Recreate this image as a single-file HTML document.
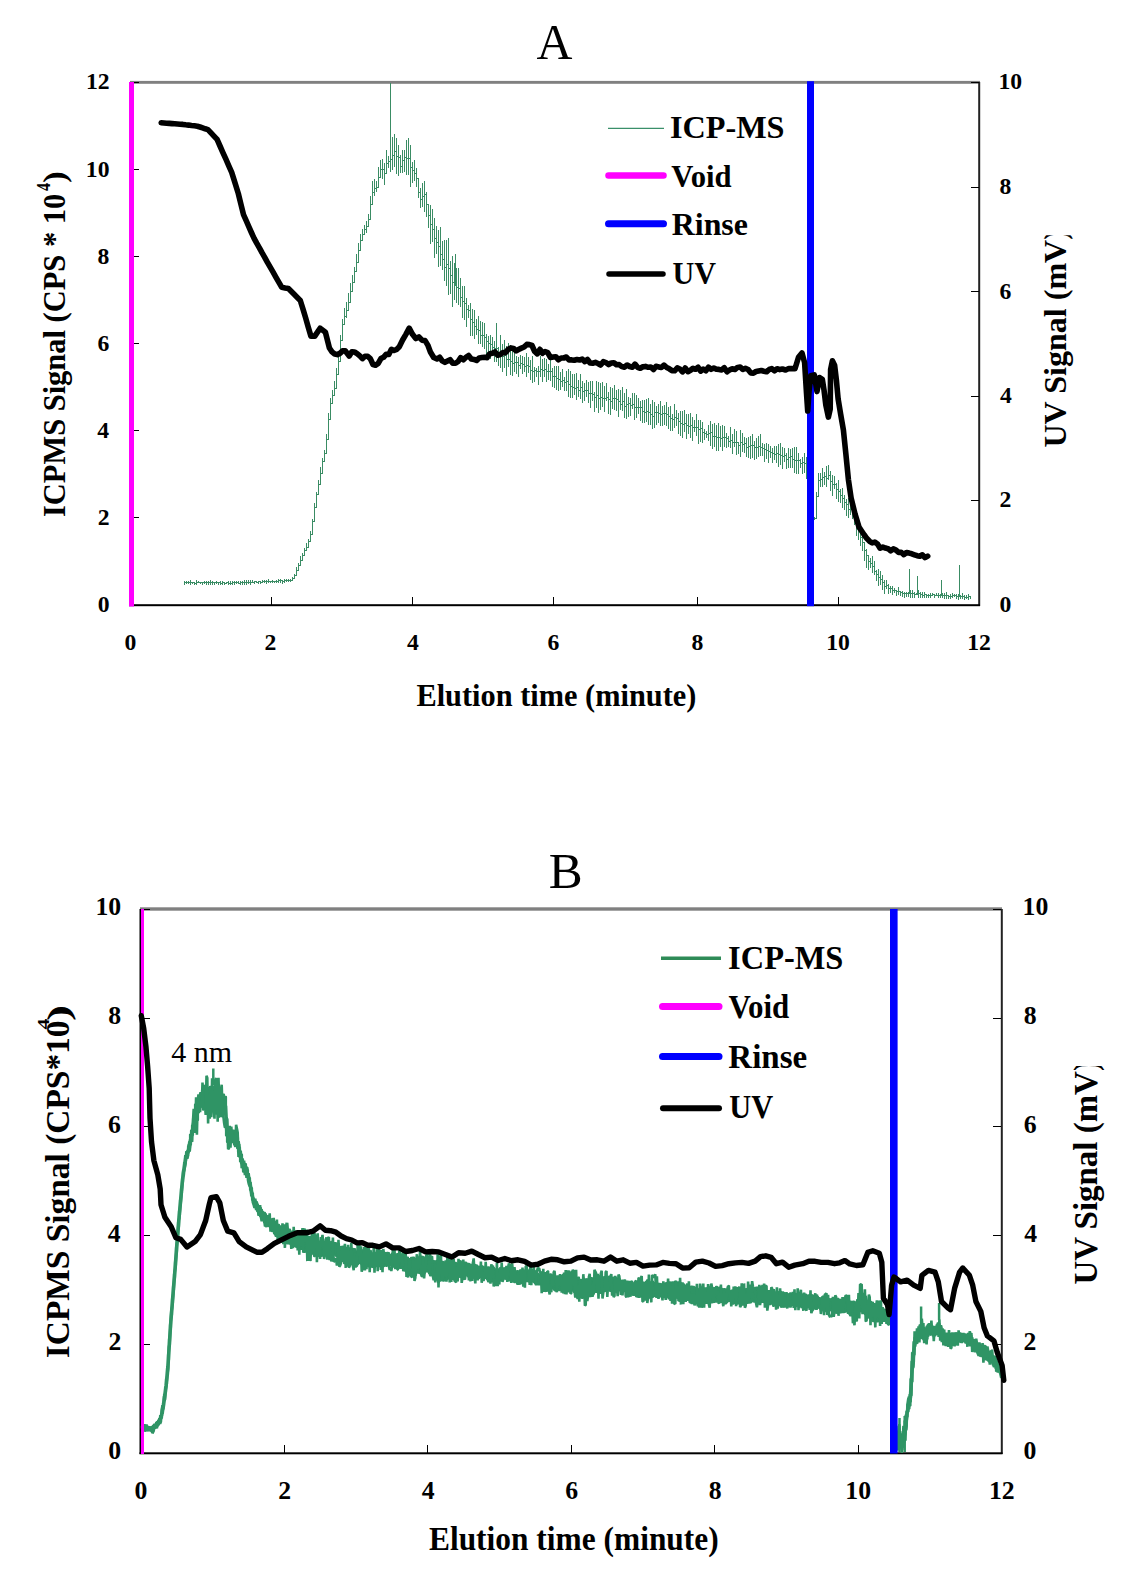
<!DOCTYPE html>
<html><head><meta charset="utf-8"><style>
html,body{margin:0;padding:0;background:#fff;width:1136px;height:1588px;overflow:hidden}
svg{display:block}
text{font-family:"Liberation Serif",serif;fill:#000}
</style></head><body>
<svg width="1136" height="1588" viewBox="0 0 1136 1588">
<rect width="1136" height="1588" fill="#fff"/>
<rect x="130" y="80.9" width="850" height="2.9" fill="#808080"/>
<rect x="978.2" y="82" width="2" height="524" fill="#222"/>
<rect x="129" y="604.2" width="851" height="2" fill="#000"/>
<rect x="129.5" y="82" width="2" height="524" fill="#000"/>
<rect x="271" y="597" width="1" height="8" fill="#000"/>
<rect x="412" y="597" width="1" height="8" fill="#000"/>
<rect x="553" y="597" width="1" height="8" fill="#000"/>
<rect x="697" y="597" width="1" height="8" fill="#000"/>
<rect x="838" y="597" width="1" height="8" fill="#000"/>
<rect x="131" y="605" width="8" height="1" fill="#000"/>
<rect x="131" y="517" width="8" height="1" fill="#000"/>
<rect x="131" y="430" width="8" height="1" fill="#000"/>
<rect x="131" y="343" width="8" height="1" fill="#000"/>
<rect x="131" y="256" width="8" height="1" fill="#000"/>
<rect x="131" y="169" width="8" height="1" fill="#000"/>
<rect x="131" y="82" width="8" height="1" fill="#000"/>
<rect x="971" y="605" width="8" height="1" fill="#000"/>
<rect x="971" y="500" width="8" height="1" fill="#000"/>
<rect x="971" y="396" width="8" height="1" fill="#000"/>
<rect x="971" y="291" width="8" height="1" fill="#000"/>
<rect x="971" y="187" width="8" height="1" fill="#000"/>
<rect x="971" y="82" width="8" height="1" fill="#000"/>
<rect x="140" y="907.3" width="862" height="3.4" fill="#808080"/>
<rect x="1000.8" y="909" width="2" height="545" fill="#222"/>
<rect x="139.5" y="1452.3" width="863" height="2" fill="#000"/>
<rect x="139.5" y="909" width="2" height="545" fill="#000"/>
<rect x="284" y="1445" width="1" height="8" fill="#000"/>
<rect x="427" y="1445" width="1" height="8" fill="#000"/>
<rect x="571" y="1445" width="1" height="8" fill="#000"/>
<rect x="714" y="1445" width="1" height="8" fill="#000"/>
<rect x="858" y="1445" width="1" height="8" fill="#000"/>
<rect x="142" y="1453" width="8" height="1" fill="#000"/>
<rect x="993" y="1453" width="8" height="1" fill="#000"/>
<rect x="142" y="1344" width="8" height="1" fill="#000"/>
<rect x="993" y="1344" width="8" height="1" fill="#000"/>
<rect x="142" y="1235" width="8" height="1" fill="#000"/>
<rect x="993" y="1235" width="8" height="1" fill="#000"/>
<rect x="142" y="1126" width="8" height="1" fill="#000"/>
<rect x="993" y="1126" width="8" height="1" fill="#000"/>
<rect x="142" y="1018" width="8" height="1" fill="#000"/>
<rect x="993" y="1018" width="8" height="1" fill="#000"/>
<rect x="142" y="909" width="8" height="1" fill="#000"/>
<rect x="993" y="909" width="8" height="1" fill="#000"/>
<path d="M184.5,582.7H186.5V582.9H188.5V582.9H190.5V582.5H192.5V582.5H194.5V583.0H196.5V582.3H198.5V582.3H200.5V582.8H202.5V582.6H204.5V582.5H206.5V582.6H208.5V582.8H210.5V582.5H212.5V582.4H214.5V582.9H216.5V582.9H218.5V582.8H220.5V583.1H222.5V582.9H224.5V583.2H226.5V582.7H228.5V583.0H230.5V583.0H232.5V582.8H234.5V582.9H236.5V582.6H238.5V583.0H240.5V582.9H242.5V582.3H244.5V582.5H246.5V582.3H248.5V582.1H250.5V582.6H252.5V582.2H254.5V581.9H256.5V582.3H258.5V581.9H260.5V582.3H262.5V581.7H264.5V581.5H266.5V581.5H268.5V581.5H270.5V581.5H272.5V581.7H274.5V581.5H276.5V581.1H278.5V580.8H280.5V580.8H282.5V581.3H284.5V580.8H286.5V580.9H288.5V580.3H290.5V580.2H292.5V578.9H294.5V575.1H296.5V570.1H298.5V565.3H300.5V560.2H302.5V555.6H304.5V550.6H306.5V547.0H308.5V541.8H310.5V534.7H312.5V521.8H314.5V507.0H316.5V494.4H318.5V484.1H320.5V473.3H322.5V461.8H324.5V453.5H326.5V439.5H328.5V419.7H330.5V403.3H332.5V395.5H334.5V388.1H336.5V374.8H338.5V361.2H340.5V340.2H342.5V324.3H344.5V316.2H346.5V310.3H348.5V302.2H350.5V291.6H352.5V282.1H354.5V271.9H356.5V262.6H358.5V250.0H360.5V240.1H362.5V234.8H364.5V229.5H366.5V226.8H368.5V219.6H370.5V204.3H372.5V192.1H374.5V188.3H376.5V187.7H378.5V177.2H380.5V169.2H382.5V169.4H384.5V173.1H386.5V163.4H388.5V161.0H390.5V159.0H392.5V155.8H394.5V151.8H396.5V156.1H398.5V157.3H400.5V166.2H402.5V160.8H404.5V157.6H406.5V158.6H408.5V158.0H410.5V167.8H412.5V170.9H414.5V173.0H416.5V178.9H418.5V192.6H420.5V199.7H422.5V196.8H424.5V194.3H426.5V204.2H428.5V215.4H430.5V224.4H432.5V229.5H434.5V238.4H436.5V242.4H438.5V246.9H440.5V254.3H442.5V259.0H444.5V267.5H446.5V264.5H448.5V268.2H450.5V275.9H452.5V282.6H454.5V285.5H456.5V287.6H458.5V288.0H460.5V297.9H462.5V301.8H464.5V303.0H466.5V309.1H468.5V310.8H470.5V319.0H472.5V322.3H474.5V326.0H476.5V329.0H478.5V330.0H480.5V335.3H482.5V335.5H484.5V337.5H486.5V341.1H488.5V343.7H490.5V344.2H492.5V347.2H494.5V348.7H496.5V348.6H498.5V352.3H500.5V352.6H502.5V356.4H504.5V355.6H506.5V359.9H508.5V359.3H510.5V361.6H512.5V363.2H514.5V362.9H516.5V362.2H518.5V365.7H520.5V363.0H522.5V364.7H524.5V366.6H526.5V365.2H528.5V366.6H530.5V370.5H532.5V371.4H534.5V370.6H536.5V371.8H538.5V371.1H540.5V369.2H542.5V370.6H544.5V369.4H546.5V371.5H548.5V371.5H550.5V371.9H552.5V376.2H554.5V376.8H556.5V378.4H558.5V379.0H560.5V381.1H562.5V380.7H564.5V382.3H566.5V381.0H568.5V384.3H570.5V386.6H572.5V387.1H574.5V388.3H576.5V387.6H578.5V390.1H580.5V387.5H582.5V391.5H584.5V390.2H586.5V390.0H588.5V393.2H590.5V393.6H592.5V394.5H594.5V397.6H596.5V395.1H598.5V398.6H600.5V397.9H602.5V398.7H604.5V398.9H606.5V397.5H608.5V399.6H610.5V401.4H612.5V398.8H614.5V398.7H616.5V399.5H618.5V401.9H620.5V404.8H622.5V401.1H624.5V406.2H626.5V404.6H628.5V403.3H630.5V405.3H632.5V404.9H634.5V407.8H636.5V407.7H638.5V407.2H640.5V407.9H642.5V411.7H644.5V412.1H646.5V411.5H648.5V412.2H650.5V414.8H652.5V416.5H654.5V412.2H656.5V412.8H658.5V413.9H660.5V414.7H662.5V413.1H664.5V413.3H666.5V414.8H668.5V416.4H670.5V418.7H672.5V419.1H674.5V417.5H676.5V418.5H678.5V421.1H680.5V423.6H682.5V424.5H684.5V423.0H686.5V425.8H688.5V426.7H690.5V425.5H692.5V427.6H694.5V427.0H696.5V427.0H698.5V429.6H700.5V428.6H702.5V432.0H704.5V433.4H706.5V434.5H708.5V433.2H710.5V432.5H712.5V436.3H714.5V436.8H716.5V437.9H718.5V437.0H720.5V438.1H722.5V437.6H724.5V437.5H726.5V438.7H728.5V441.3H730.5V440.4H732.5V442.6H734.5V442.3H736.5V442.7H738.5V445.7H740.5V442.6H742.5V444.7H744.5V443.7H746.5V447.7H748.5V446.1H750.5V445.9H752.5V445.7H754.5V447.9H756.5V447.6H758.5V446.9H760.5V447.0H762.5V448.7H764.5V449.8H766.5V450.0H768.5V451.8H770.5V452.5H772.5V453.6H774.5V454.1H776.5V453.8H778.5V454.9H780.5V455.4H782.5V456.4H784.5V455.4H786.5V459.1H788.5V457.2H790.5V456.7H792.5V459.0H794.5V460.6H796.5V460.0H798.5V460.9H800.5V463.5H802.5V462.6H804.5V463.2H806.5V466.8M184.5,580.8V584.8M186.5,580.7V584.0M188.5,581.2V584.4M190.5,580.3V584.6M192.5,581.8V584.4M194.5,582.2V584.9M196.5,580.3V584.6M198.5,580.9V583.4M200.5,581.9V584.2M202.5,581.5V584.6M204.5,580.8V584.4M206.5,581.0V585.0M208.5,580.8V585.1M210.5,580.2V584.5M212.5,580.8V584.6M214.5,581.6V585.0M216.5,580.9V584.1M218.5,582.3V584.8M220.5,581.4V584.6M222.5,581.3V584.5M224.5,581.6V584.5M226.5,581.8V583.3M228.5,581.1V585.3M230.5,581.0V585.1M232.5,580.7V585.0M234.5,580.6V584.5M236.5,581.0V584.3M238.5,580.9V584.2M240.5,581.2V584.9M242.5,581.0V584.6M244.5,580.2V584.7M246.5,580.2V584.6M248.5,579.8V583.6M250.5,580.4V584.7M252.5,579.9V583.4M254.5,580.8V583.8M256.5,581.6V583.4M258.5,580.5V583.8M260.5,580.6V584.2M262.5,579.6V583.3M264.5,579.7V583.1M266.5,579.6V583.6M268.5,579.3V583.3M270.5,580.5V583.2M272.5,579.6V582.8M274.5,580.6V583.0M276.5,579.7V583.4M278.5,578.7V583.2M280.5,578.7V582.5M282.5,579.6V583.6M284.5,579.3V583.1M286.5,578.6V582.3M288.5,578.8V581.8M290.5,579.4V582.3M292.5,577.3V580.7M294.5,574.1V578.2M296.5,566.7V572.6M298.5,563.4V568.9M300.5,555.8V564.2M302.5,552.8V558.3M304.5,547.5V555.2M306.5,543.1V550.2M308.5,538.6V544.0M310.5,531.2V536.5M312.5,519.2V525.9M314.5,502.6V512.2M316.5,492.4V498.4M318.5,480.3V490.1M320.5,467.2V477.3M322.5,457.7V467.8M324.5,449.5V455.6M326.5,433.8V443.6M328.5,412.6V423.6M330.5,398.2V409.2M332.5,389.9V400.9M334.5,381.0V393.8M336.5,367.5V382.4M338.5,354.5V367.7M340.5,335.4V347.5M342.5,319.1V331.1M344.5,307.5V325.0M346.5,301.9V317.7M348.5,293.0V310.8M350.5,282.9V300.9M352.5,275.1V290.1M354.5,267.2V279.0M356.5,253.9V268.2M358.5,242.5V258.2M360.5,233.7V247.2M362.5,228.9V241.2M364.5,224.6V233.5M366.5,221.4V232.7M368.5,214.1V226.0M370.5,195.9V211.0M372.5,180.9V204.0M374.5,178.8V196.0M376.5,181.2V191.6M378.5,167.4V186.8M380.5,159.6V175.1M382.5,158.5V179.1M384.5,163.4V185.3M386.5,150.2V168.0M388.5,156.0V168.3M390.5,148.1V172.3M392.5,136.5V169.7M394.5,134.0V167.0M396.5,138.0V173.7M398.5,145.2V176.4M400.5,155.4V172.5M402.5,149.7V173.4M404.5,149.7V171.5M406.5,139.9V174.7M408.5,137.7V174.9M410.5,145.0V186.7M412.5,161.6V182.9M414.5,160.4V180.6M416.5,168.3V186.6M418.5,180.9V197.5M420.5,187.5V207.6M422.5,183.0V207.4M424.5,180.7V211.6M426.5,192.1V217.0M428.5,204.7V228.1M430.5,204.5V243.7M432.5,209.1V241.6M434.5,217.8V257.6M436.5,225.7V253.9M438.5,230.4V266.6M440.5,227.4V265.8M442.5,240.5V270.3M444.5,240.0V280.8M446.5,240.0V285.6M448.5,238.4V295.2M450.5,260.9V293.8M452.5,256.4V306.5M454.5,262.6V300.4M456.5,268.4V302.7M458.5,267.8V305.4M460.5,278.2V307.1M462.5,285.9V317.7M464.5,285.7V319.8M466.5,297.5V327.4M468.5,305.1V318.0M470.5,303.4V335.7M472.5,309.2V336.3M474.5,310.1V339.4M476.5,319.3V334.8M478.5,316.2V344.2M480.5,320.9V344.3M482.5,321.6V346.9M484.5,323.3V348.9M486.5,333.6V355.0M488.5,336.0V355.7M490.5,335.4V359.2M492.5,336.6V356.3M494.5,341.3V362.3M496.5,340.2V361.9M498.5,347.3V365.7M500.5,335.1V367.7M502.5,343.5V371.5M504.5,339.6V368.3M506.5,346.1V375.7M508.5,343.1V367.1M510.5,345.2V375.1M512.5,351.3V375.8M514.5,350.4V371.9M516.5,355.7V374.0M518.5,357.3V377.1M520.5,355.3V369.3M522.5,355.9V373.5M524.5,357.3V372.1M526.5,353.4V377.2M528.5,356.6V373.0M530.5,360.2V379.6M532.5,356.4V383.2M534.5,366.5V382.2M536.5,368.4V376.8M538.5,365.5V385.4M540.5,355.8V377.4M542.5,359.2V381.9M544.5,357.8V377.0M546.5,358.8V382.1M548.5,363.9V380.4M550.5,358.9V380.7M552.5,368.0V386.5M554.5,365.9V388.1M556.5,366.2V390.0M558.5,365.8V391.4M560.5,372.3V390.1M562.5,369.4V387.2M564.5,376.8V391.4M566.5,371.3V391.2M568.5,368.9V397.3M570.5,371.4V398.1M572.5,374.2V397.5M574.5,374.2V395.2M576.5,373.3V400.0M578.5,380.4V396.8M580.5,373.7V398.5M582.5,381.4V403.2M584.5,383.4V401.1M586.5,379.6V396.9M588.5,381.7V402.7M590.5,380.8V407.9M592.5,381.2V401.3M594.5,391.9V411.5M596.5,380.9V407.5M598.5,381.6V413.3M600.5,383.1V410.0M602.5,382.3V406.8M604.5,386.3V411.9M606.5,383.0V401.2M608.5,392.0V413.9M610.5,387.3V414.9M612.5,388.2V408.9M614.5,384.7V410.4M616.5,389.6V411.3M618.5,389.1V417.0M620.5,390.3V410.4M622.5,387.3V411.2M624.5,392.9V417.6M626.5,389.0V419.1M628.5,396.5V417.1M630.5,398.3V416.4M632.5,392.9V408.9M634.5,393.2V420.4M636.5,395.0V418.1M638.5,397.8V414.1M640.5,401.0V420.5M642.5,400.2V423.1M644.5,400.0V422.5M646.5,399.1V421.6M648.5,398.1V425.4M650.5,404.0V425.3M652.5,400.1V428.7M654.5,401.7V428.3M656.5,405.5V424.7M658.5,403.7V423.0M660.5,400.8V425.9M662.5,406.0V426.2M664.5,405.3V425.4M666.5,402.1V426.1M668.5,407.3V429.1M670.5,406.0V430.8M672.5,414.1V431.0M674.5,404.1V427.8M676.5,410.0V425.8M678.5,413.3V433.8M680.5,411.0V435.5M682.5,410.7V438.2M684.5,409.6V432.0M686.5,413.9V438.5M688.5,414.1V434.3M690.5,412.7V438.0M692.5,417.1V440.7M694.5,420.2V431.9M696.5,413.9V436.2M698.5,419.5V444.0M700.5,419.5V442.3M702.5,421.8V443.4M704.5,429.1V439.8M706.5,430.7V437.6M708.5,425.0V441.3M710.5,421.3V445.8M712.5,423.9V449.1M714.5,423.0V447.1M716.5,424.6V450.8M718.5,422.9V450.9M720.5,426.0V447.4M722.5,424.8V451.3M724.5,425.7V446.5M726.5,432.6V448.3M728.5,435.7V446.5M730.5,427.3V447.9M732.5,434.3V454.3M734.5,428.7V446.9M736.5,431.3V454.8M738.5,442.0V453.9M740.5,430.0V456.6M742.5,432.9V452.4M744.5,437.2V452.6M746.5,438.4V457.2M748.5,436.6V458.2M750.5,436.3V459.1M752.5,433.6V458.1M754.5,440.9V459.8M756.5,438.1V458.7M758.5,436.3V457.1M760.5,434.4V455.6M762.5,442.7V455.7M764.5,444.4V461.9M766.5,442.9V459.2M768.5,444.4V462.7M770.5,445.7V457.7M772.5,448.1V462.6M774.5,446.4V460.1M776.5,445.8V463.1M778.5,444.4V467.3M780.5,443.4V464.9M782.5,446.5V468.8M784.5,447.7V462.3M786.5,452.7V469.2M788.5,448.3V467.5M790.5,449.0V467.9M792.5,448.1V467.5M794.5,446.9V473.2M796.5,447.3V473.7M798.5,452.8V474.2M800.5,458.6V468.2M802.5,456.8V473.6M804.5,452.6V472.9M806.5,456.9V478.5M814.5,518.8H816.5V496.2H818.5V480.6H820.5V479.0H822.5V477.9H824.5V476.8H826.5V478.0H828.5V475.8H830.5V481.8H832.5V484.7H834.5V484.7H836.5V489.6H838.5V491.3H840.5V495.0H842.5V498.9H844.5V502.2H846.5V504.8H848.5V509.1H850.5V509.1H852.5V511.8H854.5V518.0H856.5V523.6H858.5V529.8H860.5V537.3H862.5V542.1H864.5V550.9H866.5V555.6H868.5V561.5H870.5V563.3H872.5V566.2H874.5V571.7H876.5V574.6H878.5V577.9H880.5V579.2H882.5V582.1H884.5V586.1H886.5V585.7H888.5V588.8H890.5V588.7H892.5V590.4H894.5V590.7H896.5V591.1H898.5V591.5H900.5V592.9H902.5V593.6H904.5V593.5H906.5V593.5H908.5V593.8H910.5V593.7H912.5V593.9H914.5V594.4H916.5V593.8H918.5V593.9H920.5V594.9H922.5V595.0H924.5V594.7H926.5V595.1H928.5V595.2H930.5V595.5H932.5V594.7H934.5V595.6H936.5V595.3H938.5V595.3H940.5V595.6H942.5V595.6H944.5V595.5H946.5V595.5H948.5V596.2H950.5V596.1H952.5V595.5H954.5V595.9H956.5V596.4H958.5V596.6H960.5V596.9H962.5V596.3H964.5V597.1H966.5V597.1H968.5V596.6H970.5V596.8M814.5,517.0V520.2M816.5,491.5V503.0M818.5,473.2V482.4M820.5,472.6V487.3M822.5,468.4V486.8M824.5,471.8V484.6M826.5,466.3V486.8M828.5,464.7V480.3M830.5,470.6V490.6M832.5,474.8V495.9M834.5,476.1V488.7M836.5,483.3V499.3M838.5,479.5V501.9M840.5,488.5V502.5M842.5,488.1V507.7M844.5,495.3V509.9M846.5,498.6V515.7M848.5,498.0V517.8M850.5,497.8V514.9M852.5,503.4V519.0M854.5,507.1V525.2M856.5,511.8V536.1M858.5,519.9V540.2M860.5,526.5V546.3M862.5,535.0V550.8M864.5,544.9V560.5M866.5,548.8V567.9M868.5,558.4V570.4M870.5,558.3V568.0M872.5,555.5V572.6M874.5,560.7V574.5M876.5,570.4V580.7M878.5,569.0V586.3M880.5,570.7V584.9M882.5,574.7V590.1M884.5,580.1V593.6M886.5,580.4V589.0M888.5,583.5V594.4M890.5,585.5V593.2M892.5,586.1V595.2M894.5,588.0V593.3M896.5,589.5V595.5M898.5,586.8V594.7M900.5,590.8V595.6M902.5,590.9V596.5M904.5,591.7V598.0M906.5,592.3V596.9M908.5,591.6V597.0M910.5,589.5V597.8M912.5,590.2V597.8M914.5,591.5V598.3M916.5,592.9V595.0M918.5,590.4V597.7M920.5,592.1V598.1M922.5,591.6V598.4M924.5,592.0V597.8M926.5,593.7V598.3M928.5,593.9V598.3M930.5,592.6V598.2M932.5,592.9V596.3M934.5,594.0V598.4M936.5,593.0V596.4M938.5,593.4V597.5M940.5,593.6V597.6M942.5,592.7V597.7M944.5,593.1V598.5M946.5,592.3V598.5M948.5,594.7V599.2M950.5,594.1V598.8M952.5,592.5V598.4M954.5,593.5V597.4M956.5,593.5V598.5M958.5,594.3V599.5M960.5,594.6V599.2M962.5,593.3V598.8M964.5,595.0V600.0M966.5,594.5V598.9M968.5,594.1V599.6M970.5,595.9V599.1M390.5,82.5V160M455.5,254V285M496.5,323V349M909.5,569V594M917.5,576V595M959.5,565V596M941.5,580V596" fill="none" stroke="#3a8c64" stroke-width="1" shape-rendering="crispEdges"/>
<rect x="129" y="82" width="5" height="524.5" fill="#ff00ff"/>
<rect x="807" y="81.2" width="7" height="525" fill="#0000ff"/>
<polyline points="161.2,122.8 163.9,123.0 166.6,123.2 169.3,123.4 172.0,123.6 174.7,123.8 177.4,124.0 180.1,124.2 182.8,124.4 185.7,124.8 188.6,125.1 191.5,125.5 194.4,125.8 197.3,126.2 200.0,127.0 202.6,127.9 205.2,128.8 207.9,129.6 211.0,132.9 214.0,136.1 217.1,139.4 220.0,146.0 222.9,152.6 225.9,159.2 228.8,165.8 231.7,172.4 235.0,182.9 238.3,193.5 240.9,204.1 243.5,214.7 246.2,220.6 248.8,226.6 251.4,232.5 254.1,238.4 256.7,243.2 259.4,247.9 262.0,252.7 264.7,257.4 267.3,262.2 270.2,267.2 273.1,272.2 276.0,277.3 278.9,282.3 281.8,287.3 285.1,288.0 288.4,288.6 291.4,291.6 294.4,294.6 297.3,297.5 300.3,300.5 303.0,309.1 305.6,317.7 308.2,326.9 310.9,336.1 314.8,336.1 317.5,332.1 320.1,328.2 322.8,330.2 325.4,332.2 329.4,348.0 332.0,351.8 334.7,354.0 337.3,354.6 339.9,353.4 342.6,350.9 345.2,350.7 349.2,356.0 351.9,351.7 354.5,352.0 357.1,353.6 359.8,355.9 362.4,358.6 365.0,356.2 367.7,356.3 370.3,358.6 373.0,364.5 375.6,365.2 378.2,363.4 380.9,358.6 383.5,357.3 386.1,354.3 388.8,354.4 391.4,349.3 394.0,350.5 396.7,349.4 399.3,346.7 402.6,340.0 405.9,334.3 409.2,328.2 412.5,334.3 415.8,338.5 418.9,336.9 422.0,340.2 425.1,340.6 427.8,345.1 430.4,352.0 433.7,357.5 437.0,359.0 439.6,357.2 442.2,360.9 444.9,362.4 447.5,361.0 450.1,359.7 452.8,363.3 455.5,363.3 458.1,361.5 460.7,357.6 463.4,359.8 466.0,357.3 468.6,355.5 471.3,358.9 474.0,359.4 476.6,360.5 479.2,357.9 481.9,357.5 484.5,357.3 487.1,357.6 489.8,353.7 492.4,353.3 495.0,351.9 497.7,355.2 500.3,354.6 503.0,352.6 505.6,352.6 508.3,349.3 510.9,347.9 513.5,348.4 516.2,350.9 518.8,349.3 521.4,348.2 524.1,347.0 526.8,344.4 529.4,344.6 532.0,345.5 534.7,351.5 537.3,353.8 539.9,349.3 542.4,353.3 545.0,351.5 547.7,352.6 550.5,357.5 553.2,357.0 555.8,356.7 558.5,359.8 561.1,358.0 563.7,358.0 566.4,357.0 569.0,359.9 571.7,359.9 574.3,360.3 577.0,359.5 579.6,360.0 582.2,359.1 584.9,361.7 587.5,359.5 590.1,363.0 592.7,363.2 595.4,362.4 598.0,363.5 600.6,365.0 603.3,361.7 605.9,362.6 608.6,364.6 611.2,363.0 613.9,362.7 616.5,364.8 619.2,364.6 621.8,366.6 624.5,367.2 627.1,365.0 629.7,366.5 632.4,367.2 635.0,364.1 637.6,367.3 640.3,368.3 642.9,366.8 645.5,366.4 648.2,367.3 650.8,367.0 653.5,369.6 656.1,366.3 658.8,366.9 661.4,367.5 664.0,365.1 666.7,367.5 669.3,368.8 672.0,370.6 674.6,370.8 677.3,367.9 679.9,369.0 682.5,371.9 685.2,368.0 687.9,371.7 690.5,370.3 693.0,368.3 695.6,369.3 698.1,367.3 700.7,371.1 703.2,369.0 705.8,370.8 708.5,367.2 711.1,369.3 713.8,368.0 716.4,369.3 719.0,369.4 721.7,369.9 724.3,367.7 727.0,371.8 729.6,370.0 732.2,368.7 734.9,369.5 737.5,367.4 740.2,367.0 742.8,369.5 745.4,368.3 748.1,369.5 750.7,372.9 753.4,373.1 756.0,371.5 758.6,371.0 761.3,370.5 763.9,371.2 766.6,371.8 769.2,369.5 771.8,368.6 774.5,370.8 777.1,368.7 779.8,369.6 782.4,369.0 785.6,370.0 788.8,368.5 791.9,368.6 795.0,368.7 798.5,357.3 802.0,352.9 804.6,362.6 806.4,391.6 807.7,411.0 809.0,391.6 810.8,375.8 814.3,374.9 817.0,391.6 819.6,377.5 822.3,379.3 824.0,389.9 825.8,404.8 828.4,417.1 830.2,409.2 830.6,369.6 832.4,360.8 834.6,365.2 836.3,379.3 838.1,398.7 840.7,414.5 843.4,430.0 845.8,453.2 848.4,479.6 851.1,498.0 855.0,513.9 859.0,527.1 861.6,531.0 864.3,535.0 866.9,538.6 869.6,541.3 872.2,542.9 874.8,542.1 877.5,544.0 880.1,548.2 882.8,547.0 885.4,548.1 888.1,548.7 890.7,550.9 893.3,548.9 896.0,550.1 898.6,552.4 901.2,552.2 903.9,554.7 906.5,552.5 909.2,553.1 911.8,553.8 914.5,554.8 917.1,555.7 919.8,556.3 922.4,554.8 925.0,557.7 927.7,556.1" fill="none" stroke="#000" stroke-width="5.6" stroke-linejoin="round" stroke-linecap="round" />
<polyline points="142.5,1427.0 144.1,1427.0 147.6,1428.5 152.0,1429.0 155.5,1426.0 159.0,1422.0 161.7,1415.0 163.5,1405.0 166.1,1386.0 167.9,1367.0 170.5,1326.0 173.1,1293.0 174.9,1271.0 176.7,1247.0 179.1,1217.0 182.2,1183.0 183.7,1171.0 185.8,1157.0 188.0,1152.0 190.1,1142.0 192.2,1132.0 194.8,1116.0 196.9,1112.0 199.6,1102.0 202.7,1096.0 205.9,1096.0 208.6,1100.0 211.2,1097.0 213.3,1097.0 216.5,1103.0 219.6,1102.0 222.8,1106.0 225.5,1106.0 227.0,1135.0 230.2,1136.0 234.4,1138.0 236.5,1138.0 239.7,1154.0 243.9,1167.0 248.2,1175.0 253.2,1200.0 262.0,1215.0 270.8,1224.0 276.1,1229.0 283.2,1236.0 293.7,1238.0 306.0,1244.0 318.4,1249.0 329.0,1248.0 333.2,1249.0 346.4,1257.0 359.6,1257.0 372.8,1260.0 386.0,1259.0 399.2,1261.0 412.4,1267.0 425.6,1264.0 438.8,1272.0 452.0,1270.0 465.2,1270.0 478.4,1271.5 491.6,1275.5 504.8,1273.0 518.0,1277.0 531.2,1275.5 544.5,1281.0 557.7,1283.5 570.9,1282.0 584.1,1290.0 597.3,1285.0 610.5,1283.5 623.2,1286.0 636.4,1290.0 649.6,1289.0 662.8,1290.0 676.0,1290.0 689.2,1292.5 702.4,1296.5 715.6,1294.0 728.8,1296.5 742.0,1296.5 755.2,1294.0 768.4,1298.0 781.6,1299.5 794.8,1299.5 808.0,1301.0 821.2,1303.5 834.5,1306.0 847.7,1306.0 856.4,1312.0 860.5,1300.0 864.6,1305.0 872.8,1312.0 881.0,1314.5 889.1,1317.0 891.0,1318.0" fill="none" stroke="#2f9465" stroke-width="3.6" stroke-linejoin="round" stroke-linecap="round" />
<polygon points="142.0,1425.4 143.0,1425.4 143.0,1425.5 144.0,1425.5 144.0,1425.1 145.0,1425.1 145.0,1425.8 146.0,1425.8 146.0,1426.3 147.0,1426.3 147.0,1426.7 148.0,1426.7 148.0,1427.1 149.0,1427.1 149.0,1427.2 150.0,1427.2 150.0,1427.4 151.0,1427.4 151.0,1427.7 152.0,1427.7 152.0,1426.5 153.0,1426.5 153.0,1425.7 154.0,1425.7 154.0,1424.6 155.0,1424.6 155.0,1424.3 156.0,1424.3 156.0,1422.7 157.0,1422.7 157.0,1421.8 158.0,1421.8 158.0,1420.5 159.0,1420.5 159.0,1419.1 160.0,1419.1 160.0,1415.8 161.0,1415.8 161.0,1413.8 162.0,1413.8 162.0,1407.9 163.0,1407.9 163.0,1402.8 164.0,1402.8 164.0,1394.6 165.0,1394.6 165.0,1387.4 166.0,1387.4 166.0,1378.8 167.0,1378.8 167.0,1368.0 168.0,1368.0 168.0,1354.6 169.0,1354.6 169.0,1339.3 170.0,1339.3 170.0,1324.6 171.0,1324.6 171.0,1311.7 172.0,1311.7 172.0,1298.7 173.0,1298.7 173.0,1286.5 174.0,1286.5 174.0,1274.1 175.0,1274.1 175.0,1261.7 176.0,1261.7 176.0,1247.6 177.0,1247.6 177.0,1235.5 178.0,1235.5 178.0,1222.2 179.0,1222.2 179.0,1211.0 180.0,1211.0 180.0,1200.1 181.0,1200.1 181.0,1188.8 182.0,1188.8 182.0,1178.3 183.0,1178.3 183.0,1170.3 184.0,1170.3 184.0,1162.8 185.0,1162.8 185.0,1155.9 186.0,1155.9 186.0,1152.7 187.0,1152.7 187.0,1151.2 188.0,1151.2 188.0,1146.4 189.0,1146.4 189.0,1142.1 190.0,1142.1 190.0,1134.6 191.0,1134.6 191.0,1130.7 192.0,1130.7 192.0,1125.5 193.0,1125.5 193.0,1118.4 194.0,1118.4 194.0,1110.7 195.0,1110.7 195.0,1104.5 196.0,1104.5 196.0,1105.6 197.0,1105.6 197.0,1102.9 198.0,1102.9 198.0,1100.0 199.0,1100.0 199.0,1097.5 200.0,1097.5 200.0,1093.2 201.0,1093.2 201.0,1093.0 202.0,1093.0 202.0,1089.8 203.0,1089.8 203.0,1085.5 204.0,1085.5 204.0,1088.4 205.0,1088.4 205.0,1086.7 206.0,1086.7 206.0,1090.1 207.0,1090.1 207.0,1089.0 208.0,1089.0 208.0,1087.8 209.0,1087.8 209.0,1088.7 210.0,1088.7 210.0,1086.8 211.0,1086.8 211.0,1090.4 212.0,1090.4 212.0,1088.9 213.0,1088.9 213.0,1086.8 214.0,1086.8 214.0,1088.2 215.0,1088.2 215.0,1091.2 216.0,1091.2 216.0,1092.2 217.0,1092.2 217.0,1087.5 218.0,1087.5 218.0,1089.7 219.0,1089.7 219.0,1089.3 220.0,1089.3 220.0,1094.5 221.0,1094.5 221.0,1096.5 222.0,1096.5 222.0,1097.8 223.0,1097.8 223.0,1094.5 224.0,1094.5 224.0,1099.3 225.0,1099.3 225.0,1096.8 226.0,1096.8 226.0,1118.2 227.0,1118.2 227.0,1129.0 228.0,1129.0 228.0,1130.1 229.0,1130.1 229.0,1130.6 230.0,1130.6 230.0,1131.7 231.0,1131.7 231.0,1131.8 232.0,1131.8 232.0,1130.6 233.0,1130.6 233.0,1130.6 234.0,1130.6 234.0,1131.4 235.0,1131.4 235.0,1133.7 236.0,1133.7 236.0,1133.1 237.0,1133.1 237.0,1137.5 238.0,1137.5 238.0,1141.8 239.0,1141.8 239.0,1147.6 240.0,1147.6 240.0,1151.3 241.0,1151.3 241.0,1154.7 242.0,1154.7 242.0,1159.0 243.0,1159.0 243.0,1162.2 244.0,1162.2 244.0,1163.6 245.0,1163.6 245.0,1166.1 246.0,1166.1 246.0,1167.4 247.0,1167.4 247.0,1170.2 248.0,1170.2 248.0,1173.8 249.0,1173.8 249.0,1178.2 250.0,1178.2 250.0,1184.3 251.0,1184.3 251.0,1188.1 252.0,1188.1 252.0,1193.3 253.0,1193.3 253.0,1198.3 254.0,1198.3 254.0,1199.9 255.0,1199.9 255.0,1201.4 256.0,1201.4 256.0,1202.2 257.0,1202.2 257.0,1204.7 258.0,1204.7 258.0,1206.5 259.0,1206.5 259.0,1208.3 260.0,1208.3 260.0,1208.1 261.0,1208.1 261.0,1209.9 262.0,1209.9 262.0,1212.9 263.0,1212.9 263.0,1213.3 264.0,1213.3 264.0,1212.8 265.0,1212.8 265.0,1214.2 266.0,1214.2 266.0,1216.0 267.0,1216.0 267.0,1216.1 268.0,1216.1 268.0,1217.0 269.0,1217.0 269.0,1218.1 270.0,1218.1 270.0,1220.2 271.0,1220.2 271.0,1219.9 272.0,1219.9 272.0,1222.1 273.0,1222.1 273.0,1220.9 274.0,1220.9 274.0,1221.8 275.0,1221.8 275.0,1222.7 276.0,1222.7 276.0,1223.6 277.0,1223.6 277.0,1225.6 278.0,1225.6 278.0,1224.8 279.0,1224.8 279.0,1227.2 280.0,1227.2 280.0,1226.3 281.0,1226.3 281.0,1229.2 282.0,1229.2 282.0,1231.0 283.0,1231.0 283.0,1229.4 284.0,1229.4 284.0,1230.6 285.0,1230.6 285.0,1230.5 286.0,1230.5 286.0,1232.2 287.0,1232.2 287.0,1229.8 288.0,1229.8 288.0,1232.6 289.0,1232.6 289.0,1229.6 290.0,1229.6 290.0,1231.5 291.0,1231.5 291.0,1231.5 292.0,1231.5 292.0,1231.7 293.0,1231.7 293.0,1233.6 294.0,1233.6 294.0,1232.0 295.0,1232.0 295.0,1231.4 296.0,1231.4 296.0,1234.0 297.0,1234.0 297.0,1234.7 298.0,1234.7 298.0,1234.4 299.0,1234.4 299.0,1232.7 300.0,1232.7 300.0,1234.6 301.0,1234.6 301.0,1236.1 302.0,1236.1 302.0,1235.9 303.0,1235.9 303.0,1237.0 304.0,1237.0 304.0,1235.5 305.0,1235.5 305.0,1234.8 306.0,1234.8 306.0,1236.7 307.0,1236.7 307.0,1236.3 308.0,1236.3 308.0,1237.7 309.0,1237.7 309.0,1239.8 310.0,1239.8 310.0,1236.9 311.0,1236.9 311.0,1240.0 312.0,1240.0 312.0,1240.1 313.0,1240.1 313.0,1241.6 314.0,1241.6 314.0,1241.0 315.0,1241.0 315.0,1239.3 316.0,1239.3 316.0,1241.8 317.0,1241.8 317.0,1242.4 318.0,1242.4 318.0,1243.2 319.0,1243.2 319.0,1243.0 320.0,1243.0 320.0,1243.1 321.0,1243.1 321.0,1241.3 322.0,1241.3 322.0,1243.4 323.0,1243.4 323.0,1241.9 324.0,1241.9 324.0,1244.2 325.0,1244.2 325.0,1242.5 326.0,1242.5 326.0,1241.3 327.0,1241.3 327.0,1243.6 328.0,1243.6 328.0,1242.5 329.0,1242.5 329.0,1242.8 330.0,1242.8 330.0,1243.8 331.0,1243.8 331.0,1241.9 332.0,1241.9 332.0,1244.5 333.0,1244.5 333.0,1244.0 334.0,1244.0 334.0,1243.0 335.0,1243.0 335.0,1243.2 336.0,1243.2 336.0,1244.0 337.0,1244.0 337.0,1244.3 338.0,1244.3 338.0,1243.9 339.0,1243.9 339.0,1247.0 340.0,1247.0 340.0,1247.8 341.0,1247.8 341.0,1246.8 342.0,1246.8 342.0,1247.2 343.0,1247.2 343.0,1246.7 344.0,1246.7 344.0,1248.9 345.0,1248.9 345.0,1249.7 346.0,1249.7 346.0,1247.9 347.0,1247.9 347.0,1250.1 348.0,1250.1 348.0,1248.0 349.0,1248.0 349.0,1250.9 350.0,1250.9 350.0,1250.6 351.0,1250.6 351.0,1249.0 352.0,1249.0 352.0,1248.8 353.0,1248.8 353.0,1251.4 354.0,1251.4 354.0,1249.0 355.0,1249.0 355.0,1251.1 356.0,1251.1 356.0,1251.8 357.0,1251.8 357.0,1251.7 358.0,1251.7 358.0,1249.4 359.0,1249.4 359.0,1249.8 360.0,1249.8 360.0,1250.7 361.0,1250.7 361.0,1250.1 362.0,1250.1 362.0,1253.4 363.0,1253.4 363.0,1252.8 364.0,1252.8 364.0,1253.4 365.0,1253.4 365.0,1251.7 366.0,1251.7 366.0,1251.5 367.0,1251.5 367.0,1252.7 368.0,1252.7 368.0,1254.6 369.0,1254.6 369.0,1254.1 370.0,1254.1 370.0,1255.0 371.0,1255.0 371.0,1253.5 372.0,1253.5 372.0,1253.5 373.0,1253.5 373.0,1254.6 374.0,1254.6 374.0,1253.6 375.0,1253.6 375.0,1255.5 376.0,1255.5 376.0,1254.1 377.0,1254.1 377.0,1253.7 378.0,1253.7 378.0,1253.2 379.0,1253.2 379.0,1252.4 380.0,1252.4 380.0,1253.1 381.0,1253.1 381.0,1255.0 382.0,1255.0 382.0,1253.5 383.0,1253.5 383.0,1254.8 384.0,1254.8 384.0,1252.9 385.0,1252.9 385.0,1254.6 386.0,1254.6 386.0,1253.2 387.0,1253.2 387.0,1252.8 388.0,1252.8 388.0,1253.0 389.0,1253.0 389.0,1255.5 390.0,1255.5 390.0,1255.3 391.0,1255.3 391.0,1254.7 392.0,1254.7 392.0,1253.6 393.0,1253.6 393.0,1256.2 394.0,1256.2 394.0,1255.7 395.0,1255.7 395.0,1256.6 396.0,1256.6 396.0,1255.0 397.0,1255.0 397.0,1254.1 398.0,1254.1 398.0,1254.6 399.0,1254.6 399.0,1255.2 400.0,1255.2 400.0,1255.7 401.0,1255.7 401.0,1256.8 402.0,1256.8 402.0,1255.7 403.0,1255.7 403.0,1256.1 404.0,1256.1 404.0,1255.8 405.0,1255.8 405.0,1257.1 406.0,1257.1 406.0,1257.8 407.0,1257.8 407.0,1257.5 408.0,1257.5 408.0,1260.1 409.0,1260.1 409.0,1259.0 410.0,1259.0 410.0,1259.2 411.0,1259.2 411.0,1257.9 412.0,1257.9 412.0,1258.1 413.0,1258.1 413.0,1257.6 414.0,1257.6 414.0,1258.7 415.0,1258.7 415.0,1260.4 416.0,1260.4 416.0,1260.6 417.0,1260.6 417.0,1259.7 418.0,1259.7 418.0,1257.5 419.0,1257.5 419.0,1258.6 420.0,1258.6 420.0,1259.0 421.0,1259.0 421.0,1256.6 422.0,1256.6 422.0,1256.9 423.0,1256.9 423.0,1257.3 424.0,1257.3 424.0,1258.2 425.0,1258.2 425.0,1258.8 426.0,1258.8 426.0,1255.9 427.0,1255.9 427.0,1256.5 428.0,1256.5 428.0,1259.5 429.0,1259.5 429.0,1257.2 430.0,1257.2 430.0,1257.7 431.0,1257.7 431.0,1259.4 432.0,1259.4 432.0,1260.9 433.0,1260.9 433.0,1261.1 434.0,1261.1 434.0,1262.6 435.0,1262.6 435.0,1261.5 436.0,1261.5 436.0,1261.0 437.0,1261.0 437.0,1262.3 438.0,1262.3 438.0,1261.5 439.0,1261.5 439.0,1262.6 440.0,1262.6 440.0,1265.4 441.0,1265.4 441.0,1265.1 442.0,1265.1 442.0,1261.9 443.0,1261.9 443.0,1265.2 444.0,1265.2 444.0,1265.3 445.0,1265.3 445.0,1265.8 446.0,1265.8 446.0,1264.4 447.0,1264.4 447.0,1264.6 448.0,1264.6 448.0,1263.6 449.0,1263.6 449.0,1264.7 450.0,1264.7 450.0,1265.3 451.0,1265.3 451.0,1264.8 452.0,1264.8 452.0,1265.7 453.0,1265.7 453.0,1264.1 454.0,1264.1 454.0,1264.0 455.0,1264.0 455.0,1262.8 456.0,1262.8 456.0,1265.1 457.0,1265.1 457.0,1265.4 458.0,1265.4 458.0,1263.9 459.0,1263.9 459.0,1262.3 460.0,1262.3 460.0,1263.8 461.0,1263.8 461.0,1262.6 462.0,1262.6 462.0,1264.0 463.0,1264.0 463.0,1262.6 464.0,1262.6 464.0,1263.2 465.0,1263.2 465.0,1262.7 466.0,1262.7 466.0,1263.7 467.0,1263.7 467.0,1264.0 468.0,1264.0 468.0,1263.8 469.0,1263.8 469.0,1265.1 470.0,1265.1 470.0,1265.1 471.0,1265.1 471.0,1265.2 472.0,1265.2 472.0,1265.2 473.0,1265.2 473.0,1265.3 474.0,1265.3 474.0,1264.9 475.0,1264.9 475.0,1267.1 476.0,1267.1 476.0,1265.7 477.0,1265.7 477.0,1267.1 478.0,1267.1 478.0,1266.7 479.0,1266.7 479.0,1267.8 480.0,1267.8 480.0,1267.6 481.0,1267.6 481.0,1266.2 482.0,1266.2 482.0,1266.5 483.0,1266.5 483.0,1268.8 484.0,1268.8 484.0,1267.7 485.0,1267.7 485.0,1267.3 486.0,1267.3 486.0,1267.7 487.0,1267.7 487.0,1268.6 488.0,1268.6 488.0,1267.3 489.0,1267.3 489.0,1270.4 490.0,1270.4 490.0,1268.4 491.0,1268.4 491.0,1270.1 492.0,1270.1 492.0,1269.3 493.0,1269.3 493.0,1267.9 494.0,1267.9 494.0,1269.5 495.0,1269.5 495.0,1269.4 496.0,1269.4 496.0,1270.1 497.0,1270.1 497.0,1269.4 498.0,1269.4 498.0,1269.3 499.0,1269.3 499.0,1269.5 500.0,1269.5 500.0,1268.1 501.0,1268.1 501.0,1267.9 502.0,1267.9 502.0,1268.5 503.0,1268.5 503.0,1269.2 504.0,1269.2 504.0,1268.3 505.0,1268.3 505.0,1268.7 506.0,1268.7 506.0,1269.5 507.0,1269.5 507.0,1267.9 508.0,1267.9 508.0,1270.3 509.0,1270.3 509.0,1269.6 510.0,1269.6 510.0,1269.6 511.0,1269.6 511.0,1270.1 512.0,1270.1 512.0,1270.4 513.0,1270.4 513.0,1270.1 514.0,1270.1 514.0,1269.5 515.0,1269.5 515.0,1271.7 516.0,1271.7 516.0,1271.7 517.0,1271.7 517.0,1271.2 518.0,1271.2 518.0,1271.5 519.0,1271.5 519.0,1271.6 520.0,1271.6 520.0,1270.3 521.0,1270.3 521.0,1271.5 522.0,1271.5 522.0,1271.9 523.0,1271.9 523.0,1270.4 524.0,1270.4 524.0,1271.8 525.0,1271.8 525.0,1271.0 526.0,1271.0 526.0,1272.3 527.0,1272.3 527.0,1270.7 528.0,1270.7 528.0,1272.2 529.0,1272.2 529.0,1272.1 530.0,1272.1 530.0,1270.6 531.0,1270.6 531.0,1271.8 532.0,1271.8 532.0,1270.1 533.0,1270.1 533.0,1272.8 534.0,1272.8 534.0,1272.1 535.0,1272.1 535.0,1271.7 536.0,1271.7 536.0,1272.1 537.0,1272.1 537.0,1274.3 538.0,1274.3 538.0,1274.0 539.0,1274.0 539.0,1274.4 540.0,1274.4 540.0,1274.8 541.0,1274.8 541.0,1272.9 542.0,1272.9 542.0,1272.7 543.0,1272.7 543.0,1274.7 544.0,1274.7 544.0,1273.8 545.0,1273.8 545.0,1276.2 546.0,1276.2 546.0,1275.7 547.0,1275.7 547.0,1275.6 548.0,1275.6 548.0,1277.3 549.0,1277.3 549.0,1275.0 550.0,1275.0 550.0,1274.4 551.0,1274.4 551.0,1275.2 552.0,1275.2 552.0,1275.8 553.0,1275.8 553.0,1275.9 554.0,1275.9 554.0,1278.0 555.0,1278.0 555.0,1276.9 556.0,1276.9 556.0,1277.0 557.0,1277.0 557.0,1277.7 558.0,1277.7 558.0,1277.1 559.0,1277.1 559.0,1277.0 560.0,1277.0 560.0,1275.8 561.0,1275.8 561.0,1276.1 562.0,1276.1 562.0,1276.5 563.0,1276.5 563.0,1274.8 564.0,1274.8 564.0,1277.9 565.0,1277.9 565.0,1276.1 566.0,1276.1 566.0,1276.0 567.0,1276.0 567.0,1277.4 568.0,1277.4 568.0,1276.2 569.0,1276.2 569.0,1275.5 570.0,1275.5 570.0,1275.0 571.0,1275.0 571.0,1274.8 572.0,1274.8 572.0,1277.4 573.0,1277.4 573.0,1278.0 574.0,1278.0 574.0,1275.3 575.0,1275.3 575.0,1279.3 576.0,1279.3 576.0,1279.7 577.0,1279.7 577.0,1280.0 578.0,1280.0 578.0,1277.7 579.0,1277.7 579.0,1279.5 580.0,1279.5 580.0,1280.3 581.0,1280.3 581.0,1280.1 582.0,1280.1 582.0,1279.8 583.0,1279.8 583.0,1284.0 584.0,1284.0 584.0,1280.3 585.0,1280.3 585.0,1281.8 586.0,1281.8 586.0,1279.4 587.0,1279.4 587.0,1281.4 588.0,1281.4 588.0,1279.9 589.0,1279.9 589.0,1281.6 590.0,1281.6 590.0,1280.0 591.0,1280.0 591.0,1278.2 592.0,1278.2 592.0,1280.4 593.0,1280.4 593.0,1281.2 594.0,1281.2 594.0,1280.9 595.0,1280.9 595.0,1280.4 596.0,1280.4 596.0,1280.0 597.0,1280.0 597.0,1277.2 598.0,1277.2 598.0,1278.8 599.0,1278.8 599.0,1279.7 600.0,1279.7 600.0,1276.3 601.0,1276.3 601.0,1278.8 602.0,1278.8 602.0,1278.4 603.0,1278.4 603.0,1278.0 604.0,1278.0 604.0,1277.1 605.0,1277.1 605.0,1278.7 606.0,1278.7 606.0,1278.4 607.0,1278.4 607.0,1278.6 608.0,1278.6 608.0,1277.5 609.0,1277.5 609.0,1276.6 610.0,1276.6 610.0,1277.5 611.0,1277.5 611.0,1279.0 612.0,1279.0 612.0,1279.5 613.0,1279.5 613.0,1277.6 614.0,1277.6 614.0,1278.9 615.0,1278.9 615.0,1278.0 616.0,1278.0 616.0,1280.1 617.0,1280.1 617.0,1278.9 618.0,1278.9 618.0,1280.4 619.0,1280.4 619.0,1279.3 620.0,1279.3 620.0,1281.5 621.0,1281.5 621.0,1281.2 622.0,1281.2 622.0,1280.6 623.0,1280.6 623.0,1280.9 624.0,1280.9 624.0,1280.7 625.0,1280.7 625.0,1283.0 626.0,1283.0 626.0,1283.4 627.0,1283.4 627.0,1283.1 628.0,1283.1 628.0,1283.0 629.0,1283.0 629.0,1281.8 630.0,1281.8 630.0,1281.8 631.0,1281.8 631.0,1284.3 632.0,1284.3 632.0,1285.1 633.0,1285.1 633.0,1284.4 634.0,1284.4 634.0,1283.3 635.0,1283.3 635.0,1284.8 636.0,1284.8 636.0,1285.7 637.0,1285.7 637.0,1283.2 638.0,1283.2 638.0,1285.6 639.0,1285.6 639.0,1282.4 640.0,1282.4 640.0,1283.6 641.0,1283.6 641.0,1284.1 642.0,1284.1 642.0,1284.2 643.0,1284.2 643.0,1282.7 644.0,1282.7 644.0,1283.6 645.0,1283.6 645.0,1283.9 646.0,1283.9 646.0,1281.7 647.0,1281.7 647.0,1280.4 648.0,1280.4 648.0,1283.2 649.0,1283.2 649.0,1282.2 650.0,1282.2 650.0,1284.0 651.0,1284.0 651.0,1283.1 652.0,1283.1 652.0,1281.5 653.0,1281.5 653.0,1282.7 654.0,1282.7 654.0,1283.1 655.0,1283.1 655.0,1283.7 656.0,1283.7 656.0,1282.7 657.0,1282.7 657.0,1283.6 658.0,1283.6 658.0,1284.8 659.0,1284.8 659.0,1283.9 660.0,1283.9 660.0,1284.2 661.0,1284.2 661.0,1285.3 662.0,1285.3 662.0,1285.4 663.0,1285.4 663.0,1284.4 664.0,1284.4 664.0,1285.8 665.0,1285.8 665.0,1285.4 666.0,1285.4 666.0,1283.1 667.0,1283.1 667.0,1283.9 668.0,1283.9 668.0,1285.2 669.0,1285.2 669.0,1282.3 670.0,1282.3 670.0,1282.9 671.0,1282.9 671.0,1282.6 672.0,1282.6 672.0,1282.4 673.0,1282.4 673.0,1282.3 674.0,1282.3 674.0,1284.6 675.0,1284.6 675.0,1281.7 676.0,1281.7 676.0,1285.0 677.0,1285.0 677.0,1284.2 678.0,1284.2 678.0,1282.3 679.0,1282.3 679.0,1285.1 680.0,1285.1 680.0,1283.3 681.0,1283.3 681.0,1285.4 682.0,1285.4 682.0,1286.1 683.0,1286.1 683.0,1284.3 684.0,1284.3 684.0,1285.7 685.0,1285.7 685.0,1287.0 686.0,1287.0 686.0,1285.5 687.0,1285.5 687.0,1288.2 688.0,1288.2 688.0,1287.3 689.0,1287.3 689.0,1288.0 690.0,1288.0 690.0,1288.0 691.0,1288.0 691.0,1286.6 692.0,1286.6 692.0,1287.9 693.0,1287.9 693.0,1286.8 694.0,1286.8 694.0,1288.9 695.0,1288.9 695.0,1288.7 696.0,1288.7 696.0,1287.7 697.0,1287.7 697.0,1289.6 698.0,1289.6 698.0,1290.6 699.0,1290.6 699.0,1289.0 700.0,1289.0 700.0,1290.3 701.0,1290.3 701.0,1291.6 702.0,1291.6 702.0,1289.1 703.0,1289.1 703.0,1291.4 704.0,1291.4 704.0,1289.7 705.0,1289.7 705.0,1290.7 706.0,1290.7 706.0,1290.6 707.0,1290.6 707.0,1288.2 708.0,1288.2 708.0,1290.5 709.0,1290.5 709.0,1290.7 710.0,1290.7 710.0,1287.4 711.0,1287.4 711.0,1290.0 712.0,1290.0 712.0,1288.4 713.0,1288.4 713.0,1290.0 714.0,1290.0 714.0,1288.2 715.0,1288.2 715.0,1288.3 716.0,1288.3 716.0,1286.8 717.0,1286.8 717.0,1289.3 718.0,1289.3 718.0,1287.8 719.0,1287.8 719.0,1287.5 720.0,1287.5 720.0,1290.5 721.0,1290.5 721.0,1288.9 722.0,1288.9 722.0,1289.4 723.0,1289.4 723.0,1290.5 724.0,1290.5 724.0,1289.2 725.0,1289.2 725.0,1291.5 726.0,1291.5 726.0,1292.0 727.0,1292.0 727.0,1292.0 728.0,1292.0 728.0,1290.7 729.0,1290.7 729.0,1291.0 730.0,1291.0 730.0,1292.7 731.0,1292.7 731.0,1291.2 732.0,1291.2 732.0,1290.5 733.0,1290.5 733.0,1290.6 734.0,1290.6 734.0,1291.6 735.0,1291.6 735.0,1291.7 736.0,1291.7 736.0,1290.4 737.0,1290.4 737.0,1290.7 738.0,1290.7 738.0,1291.5 739.0,1291.5 739.0,1289.6 740.0,1289.6 740.0,1289.4 741.0,1289.4 741.0,1291.0 742.0,1291.0 742.0,1291.5 743.0,1291.5 743.0,1289.2 744.0,1289.2 744.0,1289.9 745.0,1289.9 745.0,1291.3 746.0,1291.3 746.0,1289.2 747.0,1289.2 747.0,1289.5 748.0,1289.5 748.0,1290.7 749.0,1290.7 749.0,1287.7 750.0,1287.7 750.0,1288.5 751.0,1288.5 751.0,1287.4 752.0,1287.4 752.0,1287.3 753.0,1287.3 753.0,1287.9 754.0,1287.9 754.0,1289.1 755.0,1289.1 755.0,1288.9 756.0,1288.9 756.0,1287.5 757.0,1287.5 757.0,1287.5 758.0,1287.5 758.0,1290.8 759.0,1290.8 759.0,1290.8 760.0,1290.8 760.0,1289.4 761.0,1289.4 761.0,1291.4 762.0,1291.4 762.0,1289.0 763.0,1289.0 763.0,1291.0 764.0,1291.0 764.0,1290.0 765.0,1290.0 765.0,1293.1 766.0,1293.1 766.0,1291.0 767.0,1291.0 767.0,1293.2 768.0,1293.2 768.0,1292.2 769.0,1292.2 769.0,1293.9 770.0,1293.9 770.0,1293.0 771.0,1293.0 771.0,1292.1 772.0,1292.1 772.0,1294.4 773.0,1294.4 773.0,1294.2 774.0,1294.2 774.0,1294.0 775.0,1294.0 775.0,1293.8 776.0,1293.8 776.0,1293.1 777.0,1293.1 777.0,1292.1 778.0,1292.1 778.0,1292.3 779.0,1292.3 779.0,1292.1 780.0,1292.1 780.0,1291.8 781.0,1291.8 781.0,1292.6 782.0,1292.6 782.0,1293.6 783.0,1293.6 783.0,1292.8 784.0,1292.8 784.0,1293.3 785.0,1293.3 785.0,1295.5 786.0,1295.5 786.0,1293.1 787.0,1293.1 787.0,1294.4 788.0,1294.4 788.0,1295.7 789.0,1295.7 789.0,1294.9 790.0,1294.9 790.0,1293.3 791.0,1293.3 791.0,1294.8 792.0,1294.8 792.0,1294.2 793.0,1294.2 793.0,1295.5 794.0,1295.5 794.0,1295.9 795.0,1295.9 795.0,1294.0 796.0,1294.0 796.0,1295.9 797.0,1295.9 797.0,1294.2 798.0,1294.2 798.0,1294.9 799.0,1294.9 799.0,1295.6 800.0,1295.6 800.0,1293.7 801.0,1293.7 801.0,1294.4 802.0,1294.4 802.0,1294.5 803.0,1294.5 803.0,1295.3 804.0,1295.3 804.0,1294.8 805.0,1294.8 805.0,1294.6 806.0,1294.6 806.0,1295.9 807.0,1295.9 807.0,1297.0 808.0,1297.0 808.0,1295.4 809.0,1295.4 809.0,1295.4 810.0,1295.4 810.0,1297.0 811.0,1297.0 811.0,1295.2 812.0,1295.2 812.0,1295.7 813.0,1295.7 813.0,1297.8 814.0,1297.8 814.0,1297.1 815.0,1297.1 815.0,1298.4 816.0,1298.4 816.0,1295.7 817.0,1295.7 817.0,1296.8 818.0,1296.8 818.0,1298.2 819.0,1298.2 819.0,1298.2 820.0,1298.2 820.0,1298.4 821.0,1298.4 821.0,1299.5 822.0,1299.5 822.0,1297.8 823.0,1297.8 823.0,1298.1 824.0,1298.1 824.0,1297.5 825.0,1297.5 825.0,1297.7 826.0,1297.7 826.0,1299.9 827.0,1299.9 827.0,1298.8 828.0,1298.8 828.0,1299.1 829.0,1299.1 829.0,1300.7 830.0,1300.7 830.0,1299.4 831.0,1299.4 831.0,1299.1 832.0,1299.1 832.0,1301.2 833.0,1301.2 833.0,1299.6 834.0,1299.6 834.0,1300.5 835.0,1300.5 835.0,1300.6 836.0,1300.6 836.0,1299.8 837.0,1299.8 837.0,1301.7 838.0,1301.7 838.0,1301.3 839.0,1301.3 839.0,1299.7 840.0,1299.7 840.0,1301.1 841.0,1301.1 841.0,1302.0 842.0,1302.0 842.0,1301.8 843.0,1301.8 843.0,1300.4 844.0,1300.4 844.0,1301.3 845.0,1301.3 845.0,1301.2 846.0,1301.2 846.0,1299.1 847.0,1299.1 847.0,1301.4 848.0,1301.4 848.0,1300.9 849.0,1300.9 849.0,1301.6 850.0,1301.6 850.0,1301.6 851.0,1301.6 851.0,1303.8 852.0,1303.8 852.0,1302.9 853.0,1302.9 853.0,1301.6 854.0,1301.6 854.0,1305.4 855.0,1305.4 855.0,1302.4 856.0,1302.4 856.0,1306.0 857.0,1306.0 857.0,1300.0 858.0,1300.0 858.0,1299.4 859.0,1299.4 859.0,1295.6 860.0,1295.6 860.0,1292.9 861.0,1292.9 861.0,1294.8 862.0,1294.8 862.0,1295.0 863.0,1295.0 863.0,1297.6 864.0,1297.6 864.0,1297.5 865.0,1297.5 865.0,1296.7 866.0,1296.7 866.0,1300.8 867.0,1300.8 867.0,1301.3 868.0,1301.3 868.0,1301.9 869.0,1301.9 869.0,1299.8 870.0,1299.8 870.0,1301.9 871.0,1301.9 871.0,1304.3 872.0,1304.3 872.0,1302.6 873.0,1302.6 873.0,1305.8 874.0,1305.8 874.0,1304.2 875.0,1304.2 875.0,1307.5 876.0,1307.5 876.0,1305.4 877.0,1305.4 877.0,1308.4 878.0,1308.4 878.0,1308.8 879.0,1308.8 879.0,1309.1 880.0,1309.1 880.0,1308.9 881.0,1308.9 881.0,1308.4 882.0,1308.4 882.0,1308.1 883.0,1308.1 883.0,1309.9 884.0,1309.9 884.0,1309.8 885.0,1309.8 885.0,1311.9 886.0,1311.9 886.0,1312.8 887.0,1312.8 887.0,1312.0 888.0,1312.0 888.0,1313.0 889.0,1313.0 889.0,1313.2 890.0,1313.2 890.0,1315.2 891.0,1315.2 891.0,1320.6 890.0,1320.6 890.0,1319.7 889.0,1319.7 889.0,1319.7 888.0,1319.7 888.0,1321.1 887.0,1321.1 887.0,1320.0 886.0,1320.0 886.0,1320.3 885.0,1320.3 885.0,1320.8 884.0,1320.8 884.0,1319.5 883.0,1319.5 883.0,1319.9 882.0,1319.9 882.0,1320.8 881.0,1320.8 881.0,1319.3 880.0,1319.3 880.0,1320.1 879.0,1320.1 879.0,1321.2 878.0,1321.2 878.0,1321.5 877.0,1321.5 877.0,1318.0 876.0,1318.0 876.0,1318.1 875.0,1318.1 875.0,1319.7 874.0,1319.7 874.0,1321.2 873.0,1321.2 873.0,1318.6 872.0,1318.6 872.0,1317.8 871.0,1317.8 871.0,1317.5 870.0,1317.5 870.0,1317.8 869.0,1317.8 869.0,1314.2 868.0,1314.2 868.0,1317.0 867.0,1317.0 867.0,1314.7 866.0,1314.7 866.0,1314.2 865.0,1314.2 865.0,1312.0 864.0,1312.0 864.0,1311.1 863.0,1311.1 863.0,1308.7 862.0,1308.7 862.0,1311.4 861.0,1311.4 861.0,1307.1 860.0,1307.1 860.0,1310.7 859.0,1310.7 859.0,1311.7 858.0,1311.7 858.0,1316.6 857.0,1316.6 857.0,1320.7 856.0,1320.7 856.0,1318.7 855.0,1318.7 855.0,1318.9 854.0,1318.9 854.0,1318.2 853.0,1318.2 853.0,1315.4 852.0,1315.4 852.0,1313.5 851.0,1313.5 851.0,1315.4 850.0,1315.4 850.0,1312.8 849.0,1312.8 849.0,1311.6 848.0,1311.6 848.0,1311.1 847.0,1311.1 847.0,1311.4 846.0,1311.4 846.0,1311.6 845.0,1311.6 845.0,1311.9 844.0,1311.9 844.0,1311.9 843.0,1311.9 843.0,1310.1 842.0,1310.1 842.0,1309.9 841.0,1309.9 841.0,1312.3 840.0,1312.3 840.0,1310.6 839.0,1310.6 839.0,1311.3 838.0,1311.3 838.0,1311.7 837.0,1311.7 837.0,1312.6 836.0,1312.6 836.0,1311.1 835.0,1311.1 835.0,1310.4 834.0,1310.4 834.0,1311.2 833.0,1311.2 833.0,1311.9 832.0,1311.9 832.0,1310.5 831.0,1310.5 831.0,1309.3 830.0,1309.3 830.0,1310.2 829.0,1310.2 829.0,1311.2 828.0,1311.2 828.0,1310.8 827.0,1310.8 827.0,1311.2 826.0,1311.2 826.0,1310.2 825.0,1310.2 825.0,1308.2 824.0,1308.2 824.0,1309.7 823.0,1309.7 823.0,1307.9 822.0,1307.9 822.0,1308.7 821.0,1308.7 821.0,1308.8 820.0,1308.8 820.0,1307.7 819.0,1307.7 819.0,1307.1 818.0,1307.1 818.0,1307.2 817.0,1307.2 817.0,1309.0 816.0,1309.0 816.0,1308.6 815.0,1308.6 815.0,1308.3 814.0,1308.3 814.0,1306.9 813.0,1306.9 813.0,1308.2 812.0,1308.2 812.0,1305.5 811.0,1305.5 811.0,1307.9 810.0,1307.9 810.0,1307.2 809.0,1307.2 809.0,1306.0 808.0,1306.0 808.0,1306.7 807.0,1306.7 807.0,1305.6 806.0,1305.6 806.0,1305.4 805.0,1305.4 805.0,1305.8 804.0,1305.8 804.0,1304.4 803.0,1304.4 803.0,1305.3 802.0,1305.3 802.0,1305.2 801.0,1305.2 801.0,1306.5 800.0,1306.5 800.0,1306.4 799.0,1306.4 799.0,1304.6 798.0,1304.6 798.0,1303.4 797.0,1303.4 797.0,1305.8 796.0,1305.8 796.0,1305.7 795.0,1305.7 795.0,1303.6 794.0,1303.6 794.0,1305.0 793.0,1305.0 793.0,1304.8 792.0,1304.8 792.0,1305.3 791.0,1305.3 791.0,1305.4 790.0,1305.4 790.0,1305.0 789.0,1305.0 789.0,1305.8 788.0,1305.8 788.0,1303.5 787.0,1303.5 787.0,1306.5 786.0,1306.5 786.0,1303.9 785.0,1303.9 785.0,1305.2 784.0,1305.2 784.0,1306.3 783.0,1306.3 783.0,1303.8 782.0,1303.8 782.0,1304.5 781.0,1304.5 781.0,1305.1 780.0,1305.1 780.0,1305.2 779.0,1305.2 779.0,1303.5 778.0,1303.5 778.0,1305.6 777.0,1305.6 777.0,1306.3 776.0,1306.3 776.0,1304.9 775.0,1304.9 775.0,1303.5 774.0,1303.5 774.0,1305.8 773.0,1305.8 773.0,1303.9 772.0,1303.9 772.0,1302.8 771.0,1302.8 771.0,1303.4 770.0,1303.4 770.0,1302.4 769.0,1302.4 769.0,1304.1 768.0,1304.1 768.0,1302.7 767.0,1302.7 767.0,1301.8 766.0,1301.8 766.0,1301.9 765.0,1301.9 765.0,1302.2 764.0,1302.2 764.0,1301.6 763.0,1301.6 763.0,1301.9 762.0,1301.9 762.0,1301.1 761.0,1301.1 761.0,1302.4 760.0,1302.4 760.0,1301.1 759.0,1301.1 759.0,1300.2 758.0,1300.2 758.0,1300.7 757.0,1300.7 757.0,1300.0 756.0,1300.0 756.0,1301.2 755.0,1301.2 755.0,1301.7 754.0,1301.7 754.0,1301.5 753.0,1301.5 753.0,1301.1 752.0,1301.1 752.0,1299.0 751.0,1299.0 751.0,1302.4 750.0,1302.4 750.0,1302.7 749.0,1302.7 749.0,1301.5 748.0,1301.5 748.0,1301.4 747.0,1301.4 747.0,1302.0 746.0,1302.0 746.0,1301.6 745.0,1301.6 745.0,1302.9 744.0,1302.9 744.0,1301.0 743.0,1301.0 743.0,1303.5 742.0,1303.5 742.0,1300.9 741.0,1300.9 741.0,1303.9 740.0,1303.9 740.0,1301.0 739.0,1301.0 739.0,1303.0 738.0,1303.0 738.0,1303.7 737.0,1303.7 737.0,1303.6 736.0,1303.6 736.0,1303.2 735.0,1303.2 735.0,1302.1 734.0,1302.1 734.0,1302.9 733.0,1302.9 733.0,1300.8 732.0,1300.8 732.0,1300.5 731.0,1300.5 731.0,1300.4 730.0,1300.4 730.0,1301.0 729.0,1301.0 729.0,1300.8 728.0,1300.8 728.0,1301.4 727.0,1301.4 727.0,1302.5 726.0,1302.5 726.0,1299.8 725.0,1299.8 725.0,1300.2 724.0,1300.2 724.0,1299.9 723.0,1299.9 723.0,1300.4 722.0,1300.4 722.0,1302.0 721.0,1302.0 721.0,1301.9 720.0,1301.9 720.0,1299.1 719.0,1299.1 719.0,1299.3 718.0,1299.3 718.0,1300.4 717.0,1300.4 717.0,1301.6 716.0,1301.6 716.0,1301.7 715.0,1301.7 715.0,1298.6 714.0,1298.6 714.0,1301.1 713.0,1301.1 713.0,1300.8 712.0,1300.8 712.0,1302.4 711.0,1302.4 711.0,1300.9 710.0,1300.9 710.0,1299.5 709.0,1299.5 709.0,1301.0 708.0,1301.0 708.0,1302.4 707.0,1302.4 707.0,1301.6 706.0,1301.6 706.0,1302.8 705.0,1302.8 705.0,1301.0 704.0,1301.0 704.0,1301.8 703.0,1301.8 703.0,1301.0 702.0,1301.0 702.0,1301.8 701.0,1301.8 701.0,1301.2 700.0,1301.2 700.0,1301.3 699.0,1301.3 699.0,1299.7 698.0,1299.7 698.0,1302.1 697.0,1302.1 697.0,1302.0 696.0,1302.0 696.0,1298.8 695.0,1298.8 695.0,1300.3 694.0,1300.3 694.0,1300.2 693.0,1300.2 693.0,1298.0 692.0,1298.0 692.0,1299.7 691.0,1299.7 691.0,1297.5 690.0,1297.5 690.0,1296.6 689.0,1296.6 689.0,1297.0 688.0,1297.0 688.0,1299.1 687.0,1299.1 687.0,1298.4 686.0,1298.4 686.0,1298.7 685.0,1298.7 685.0,1298.0 684.0,1298.0 684.0,1297.4 683.0,1297.4 683.0,1296.1 682.0,1296.1 682.0,1298.3 681.0,1298.3 681.0,1298.1 680.0,1298.1 680.0,1296.3 679.0,1296.3 679.0,1298.2 678.0,1298.2 678.0,1297.9 677.0,1297.9 677.0,1295.5 676.0,1295.5 676.0,1295.6 675.0,1295.6 675.0,1296.2 674.0,1296.2 674.0,1298.0 673.0,1298.0 673.0,1295.3 672.0,1295.3 672.0,1295.8 671.0,1295.8 671.0,1296.8 670.0,1296.8 670.0,1295.9 669.0,1295.9 669.0,1297.3 668.0,1297.3 668.0,1295.1 667.0,1295.1 667.0,1295.1 666.0,1295.1 666.0,1295.7 665.0,1295.7 665.0,1297.1 664.0,1297.1 664.0,1296.2 663.0,1296.2 663.0,1296.9 662.0,1296.9 662.0,1294.5 661.0,1294.5 661.0,1296.1 660.0,1296.1 660.0,1296.7 659.0,1296.7 659.0,1295.5 658.0,1295.5 658.0,1294.0 657.0,1294.0 657.0,1297.0 656.0,1297.0 656.0,1294.9 655.0,1294.9 655.0,1295.8 654.0,1295.8 654.0,1296.2 653.0,1296.2 653.0,1296.9 652.0,1296.9 652.0,1296.3 651.0,1296.3 651.0,1295.1 650.0,1295.1 650.0,1297.2 649.0,1297.2 649.0,1294.7 648.0,1294.7 648.0,1296.2 647.0,1296.2 647.0,1294.4 646.0,1294.4 646.0,1295.6 645.0,1295.6 645.0,1297.0 644.0,1297.0 644.0,1297.0 643.0,1297.0 643.0,1294.5 642.0,1294.5 642.0,1294.6 641.0,1294.6 641.0,1296.4 640.0,1296.4 640.0,1297.0 639.0,1297.0 639.0,1296.8 638.0,1296.8 638.0,1296.6 637.0,1296.6 637.0,1296.3 636.0,1296.3 636.0,1294.3 635.0,1294.3 635.0,1294.9 634.0,1294.9 634.0,1293.7 633.0,1293.7 633.0,1294.6 632.0,1294.6 632.0,1293.9 631.0,1293.9 631.0,1293.4 630.0,1293.4 630.0,1292.0 629.0,1292.0 629.0,1292.0 628.0,1292.0 628.0,1291.6 627.0,1291.6 627.0,1293.1 626.0,1293.1 626.0,1290.2 625.0,1290.2 625.0,1290.9 624.0,1290.9 624.0,1290.5 623.0,1290.5 623.0,1292.0 622.0,1292.0 622.0,1289.3 621.0,1289.3 621.0,1290.3 620.0,1290.3 620.0,1290.2 619.0,1290.2 619.0,1289.3 618.0,1289.3 618.0,1290.3 617.0,1290.3 617.0,1290.9 616.0,1290.9 616.0,1291.6 615.0,1291.6 615.0,1290.7 614.0,1290.7 614.0,1289.7 613.0,1289.7 613.0,1289.2 612.0,1289.2 612.0,1290.5 611.0,1290.5 611.0,1291.0 610.0,1291.0 610.0,1289.8 609.0,1289.8 609.0,1288.4 608.0,1288.4 608.0,1288.3 607.0,1288.3 607.0,1289.3 606.0,1289.3 606.0,1290.6 605.0,1290.6 605.0,1291.2 604.0,1291.2 604.0,1288.8 603.0,1288.8 603.0,1289.8 602.0,1289.8 602.0,1292.0 601.0,1292.0 601.0,1292.8 600.0,1292.8 600.0,1291.1 599.0,1291.1 599.0,1290.3 598.0,1290.3 598.0,1292.1 597.0,1292.1 597.0,1292.0 596.0,1292.0 596.0,1291.3 595.0,1291.3 595.0,1292.0 594.0,1292.0 594.0,1293.8 593.0,1293.8 593.0,1295.9 592.0,1295.9 592.0,1293.6 591.0,1293.6 591.0,1296.2 590.0,1296.2 590.0,1293.9 589.0,1293.9 589.0,1296.2 588.0,1296.2 588.0,1297.6 587.0,1297.6 587.0,1294.7 586.0,1294.7 586.0,1296.7 585.0,1296.7 585.0,1296.3 584.0,1296.3 584.0,1295.3 583.0,1295.3 583.0,1298.0 582.0,1298.0 582.0,1295.7 581.0,1295.7 581.0,1293.8 580.0,1293.8 580.0,1295.2 579.0,1295.2 579.0,1293.3 578.0,1293.3 578.0,1292.3 577.0,1292.3 577.0,1293.6 576.0,1293.6 576.0,1289.8 575.0,1289.8 575.0,1292.1 574.0,1292.1 574.0,1290.2 573.0,1290.2 573.0,1290.4 572.0,1290.4 572.0,1290.8 571.0,1290.8 571.0,1289.2 570.0,1289.2 570.0,1287.0 569.0,1287.0 569.0,1290.6 568.0,1290.6 568.0,1290.3 567.0,1290.3 567.0,1290.5 566.0,1290.5 566.0,1289.6 565.0,1289.6 565.0,1287.9 564.0,1287.9 564.0,1289.8 563.0,1289.8 563.0,1288.6 562.0,1288.6 562.0,1288.5 561.0,1288.5 561.0,1288.0 560.0,1288.0 560.0,1290.2 559.0,1290.2 559.0,1289.5 558.0,1289.5 558.0,1289.1 557.0,1289.1 557.0,1289.2 556.0,1289.2 556.0,1290.6 555.0,1290.6 555.0,1289.8 554.0,1289.8 554.0,1288.5 553.0,1288.5 553.0,1288.4 552.0,1288.4 552.0,1287.7 551.0,1287.7 551.0,1287.5 550.0,1287.5 550.0,1288.8 549.0,1288.8 549.0,1286.3 548.0,1286.3 548.0,1288.0 547.0,1288.0 547.0,1285.8 546.0,1285.8 546.0,1287.5 545.0,1287.5 545.0,1287.1 544.0,1287.1 544.0,1284.9 543.0,1284.9 543.0,1284.9 542.0,1284.9 542.0,1284.4 541.0,1284.4 541.0,1284.4 540.0,1284.4 540.0,1283.6 539.0,1283.6 539.0,1284.4 538.0,1284.4 538.0,1282.6 537.0,1282.6 537.0,1283.8 536.0,1283.8 536.0,1283.5 535.0,1283.5 535.0,1282.3 534.0,1282.3 534.0,1280.2 533.0,1280.2 533.0,1281.5 532.0,1281.5 532.0,1280.4 531.0,1280.4 531.0,1280.7 530.0,1280.7 530.0,1281.0 529.0,1281.0 529.0,1281.3 528.0,1281.3 528.0,1279.6 527.0,1279.6 527.0,1281.2 526.0,1281.2 526.0,1279.9 525.0,1279.9 525.0,1282.3 524.0,1282.3 524.0,1280.2 523.0,1280.2 523.0,1280.7 522.0,1280.7 522.0,1282.8 521.0,1282.8 521.0,1281.9 520.0,1281.9 520.0,1283.0 519.0,1283.0 519.0,1283.9 518.0,1283.9 518.0,1283.8 517.0,1283.8 517.0,1280.4 516.0,1280.4 516.0,1280.3 515.0,1280.3 515.0,1282.1 514.0,1282.1 514.0,1279.7 513.0,1279.7 513.0,1281.2 512.0,1281.2 512.0,1281.3 511.0,1281.3 511.0,1278.5 510.0,1278.5 510.0,1280.4 509.0,1280.4 509.0,1279.0 508.0,1279.0 508.0,1279.3 507.0,1279.3 507.0,1279.1 506.0,1279.1 506.0,1278.7 505.0,1278.7 505.0,1277.6 504.0,1277.6 504.0,1278.4 503.0,1278.4 503.0,1279.6 502.0,1279.6 502.0,1277.9 501.0,1277.9 501.0,1280.3 500.0,1280.3 500.0,1277.9 499.0,1277.9 499.0,1280.6 498.0,1280.6 498.0,1280.8 497.0,1280.8 497.0,1280.3 496.0,1280.3 496.0,1281.5 495.0,1281.5 495.0,1281.6 494.0,1281.6 494.0,1281.5 493.0,1281.5 493.0,1281.5 492.0,1281.5 492.0,1280.1 491.0,1280.1 491.0,1279.9 490.0,1279.9 490.0,1280.5 489.0,1280.5 489.0,1281.5 488.0,1281.5 488.0,1279.6 487.0,1279.6 487.0,1278.1 486.0,1278.1 486.0,1277.9 485.0,1277.9 485.0,1277.7 484.0,1277.7 484.0,1279.8 483.0,1279.8 483.0,1277.7 482.0,1277.7 482.0,1276.9 481.0,1276.9 481.0,1277.1 480.0,1277.1 480.0,1275.8 479.0,1275.8 479.0,1278.2 478.0,1278.2 478.0,1277.3 477.0,1277.3 477.0,1276.3 476.0,1276.3 476.0,1276.0 475.0,1276.0 475.0,1276.2 474.0,1276.2 474.0,1277.5 473.0,1277.5 473.0,1275.1 472.0,1275.1 472.0,1275.0 471.0,1275.0 471.0,1275.2 470.0,1275.2 470.0,1275.4 469.0,1275.4 469.0,1276.5 468.0,1276.5 468.0,1275.5 467.0,1275.5 467.0,1274.5 466.0,1274.5 466.0,1274.4 465.0,1274.4 465.0,1277.1 464.0,1277.1 464.0,1277.1 463.0,1277.1 463.0,1277.3 462.0,1277.3 462.0,1277.1 461.0,1277.1 461.0,1276.8 460.0,1276.8 460.0,1274.5 459.0,1274.5 459.0,1276.8 458.0,1276.8 458.0,1277.4 457.0,1277.4 457.0,1274.9 456.0,1274.9 456.0,1274.8 455.0,1274.8 455.0,1277.5 454.0,1277.5 454.0,1275.1 453.0,1275.1 453.0,1275.7 452.0,1275.7 452.0,1274.7 451.0,1274.7 451.0,1275.8 450.0,1275.8 450.0,1277.6 449.0,1277.6 449.0,1276.5 448.0,1276.5 448.0,1278.8 447.0,1278.8 447.0,1276.8 446.0,1276.8 446.0,1280.2 445.0,1280.2 445.0,1278.6 444.0,1278.6 444.0,1280.7 443.0,1280.7 443.0,1278.2 442.0,1278.2 442.0,1277.6 441.0,1277.6 441.0,1280.6 440.0,1280.6 440.0,1278.6 439.0,1278.6 439.0,1282.1 438.0,1282.1 438.0,1277.5 437.0,1277.5 437.0,1277.1 436.0,1277.1 436.0,1279.8 435.0,1279.8 435.0,1277.2 434.0,1277.2 434.0,1276.3 433.0,1276.3 433.0,1275.1 432.0,1275.1 432.0,1274.1 431.0,1274.1 431.0,1275.5 430.0,1275.5 430.0,1273.4 429.0,1273.4 429.0,1271.8 428.0,1271.8 428.0,1271.0 427.0,1271.0 427.0,1270.9 426.0,1270.9 426.0,1271.7 425.0,1271.7 425.0,1272.8 424.0,1272.8 424.0,1272.9 423.0,1272.9 423.0,1272.5 422.0,1272.5 422.0,1272.6 421.0,1272.6 421.0,1271.8 420.0,1271.8 420.0,1273.0 419.0,1273.0 419.0,1270.8 418.0,1270.8 418.0,1272.7 417.0,1272.7 417.0,1271.3 416.0,1271.3 416.0,1275.1 415.0,1275.1 415.0,1271.8 414.0,1271.8 414.0,1275.4 413.0,1275.4 413.0,1275.4 412.0,1275.4 412.0,1273.7 411.0,1273.7 411.0,1271.2 410.0,1271.2 410.0,1271.1 409.0,1271.1 409.0,1270.3 408.0,1270.3 408.0,1272.7 407.0,1272.7 407.0,1269.0 406.0,1269.0 406.0,1270.8 405.0,1270.8 405.0,1269.4 404.0,1269.4 404.0,1270.5 403.0,1270.5 403.0,1267.8 402.0,1267.8 402.0,1267.4 401.0,1267.4 401.0,1268.0 400.0,1268.0 400.0,1265.9 399.0,1265.9 399.0,1267.1 398.0,1267.1 398.0,1264.8 397.0,1264.8 397.0,1265.2 396.0,1265.2 396.0,1267.0 395.0,1267.0 395.0,1265.8 394.0,1265.8 394.0,1266.6 393.0,1266.6 393.0,1266.7 392.0,1266.7 392.0,1265.8 391.0,1265.8 391.0,1263.7 390.0,1263.7 390.0,1264.8 389.0,1264.8 389.0,1264.4 388.0,1264.4 388.0,1263.5 387.0,1263.5 387.0,1265.8 386.0,1265.8 386.0,1264.2 385.0,1264.2 385.0,1265.6 384.0,1265.6 384.0,1266.2 383.0,1266.2 383.0,1265.8 382.0,1265.8 382.0,1266.5 381.0,1266.5 381.0,1263.6 380.0,1263.6 380.0,1264.9 379.0,1264.9 379.0,1264.8 378.0,1264.8 378.0,1265.4 377.0,1265.4 377.0,1264.8 376.0,1264.8 376.0,1266.3 375.0,1266.3 375.0,1264.9 374.0,1264.9 374.0,1266.6 373.0,1266.6 373.0,1264.7 372.0,1264.7 372.0,1264.4 371.0,1264.4 371.0,1265.5 370.0,1265.5 370.0,1264.6 369.0,1264.6 369.0,1266.3 368.0,1266.3 368.0,1265.1 367.0,1265.1 367.0,1264.3 366.0,1264.3 366.0,1264.6 365.0,1264.6 365.0,1262.4 364.0,1262.4 364.0,1263.9 363.0,1263.9 363.0,1265.4 362.0,1265.4 362.0,1263.8 361.0,1263.8 361.0,1262.2 360.0,1262.2 360.0,1261.7 359.0,1261.7 359.0,1263.3 358.0,1263.3 358.0,1264.2 357.0,1264.2 357.0,1264.7 356.0,1264.7 356.0,1262.9 355.0,1262.9 355.0,1265.1 354.0,1265.1 354.0,1261.7 353.0,1261.7 353.0,1263.9 352.0,1263.9 352.0,1263.1 351.0,1263.1 351.0,1264.2 350.0,1264.2 350.0,1264.7 349.0,1264.7 349.0,1262.0 348.0,1262.0 348.0,1264.1 347.0,1264.1 347.0,1265.3 346.0,1265.3 346.0,1262.7 345.0,1262.7 345.0,1263.2 344.0,1263.2 344.0,1261.3 343.0,1261.3 343.0,1260.3 342.0,1260.3 342.0,1259.2 341.0,1259.2 341.0,1261.8 340.0,1261.8 340.0,1257.5 339.0,1257.5 339.0,1257.2 338.0,1257.2 338.0,1256.5 337.0,1256.5 337.0,1256.0 336.0,1256.0 336.0,1254.8 335.0,1254.8 335.0,1254.7 334.0,1254.7 334.0,1253.7 333.0,1253.7 333.0,1255.7 332.0,1255.7 332.0,1254.3 331.0,1254.3 331.0,1252.5 330.0,1252.5 330.0,1252.7 329.0,1252.7 329.0,1252.1 328.0,1252.1 328.0,1253.0 327.0,1253.0 327.0,1252.3 326.0,1252.3 326.0,1254.4 325.0,1254.4 325.0,1253.3 324.0,1253.3 324.0,1254.1 323.0,1254.1 323.0,1254.0 322.0,1254.0 322.0,1255.9 321.0,1255.9 321.0,1255.2 320.0,1255.2 320.0,1254.5 319.0,1254.5 319.0,1255.8 318.0,1255.8 318.0,1256.2 317.0,1256.2 317.0,1255.4 316.0,1255.4 316.0,1252.8 315.0,1252.8 315.0,1256.1 314.0,1256.1 314.0,1253.9 313.0,1253.9 313.0,1253.0 312.0,1253.0 312.0,1253.5 311.0,1253.5 311.0,1253.8 310.0,1253.8 310.0,1252.8 309.0,1252.8 309.0,1252.9 308.0,1252.9 308.0,1253.3 307.0,1253.3 307.0,1249.7 306.0,1249.7 306.0,1250.4 305.0,1250.4 305.0,1251.9 304.0,1251.9 304.0,1248.1 303.0,1248.1 303.0,1248.5 302.0,1248.5 302.0,1249.0 301.0,1249.0 301.0,1247.8 300.0,1247.8 300.0,1249.0 299.0,1249.0 299.0,1247.8 298.0,1247.8 298.0,1245.2 297.0,1245.2 297.0,1246.8 296.0,1246.8 296.0,1244.8 295.0,1244.8 295.0,1244.3 294.0,1244.3 294.0,1244.7 293.0,1244.7 293.0,1245.5 292.0,1245.5 292.0,1242.2 291.0,1242.2 291.0,1243.4 290.0,1243.4 290.0,1243.6 289.0,1243.6 289.0,1243.4 288.0,1243.4 288.0,1243.4 287.0,1243.4 287.0,1241.2 286.0,1241.2 286.0,1242.5 285.0,1242.5 285.0,1242.5 284.0,1242.5 284.0,1242.1 283.0,1242.1 283.0,1241.9 282.0,1241.9 282.0,1238.7 281.0,1238.7 281.0,1238.3 280.0,1238.3 280.0,1237.6 279.0,1237.6 279.0,1236.1 278.0,1236.1 278.0,1234.9 277.0,1234.9 277.0,1233.9 276.0,1233.9 276.0,1232.3 275.0,1232.3 275.0,1233.4 274.0,1233.4 274.0,1229.9 273.0,1229.9 273.0,1231.2 272.0,1231.2 272.0,1228.1 271.0,1228.1 271.0,1227.4 270.0,1227.4 270.0,1226.3 269.0,1226.3 269.0,1225.7 268.0,1225.7 268.0,1225.0 267.0,1225.0 267.0,1224.4 266.0,1224.4 266.0,1222.5 265.0,1222.5 265.0,1222.2 264.0,1222.2 264.0,1219.2 263.0,1219.2 263.0,1218.8 262.0,1218.8 262.0,1218.2 261.0,1218.2 261.0,1216.2 260.0,1216.2 260.0,1213.1 259.0,1213.1 259.0,1212.4 258.0,1212.4 258.0,1211.1 257.0,1211.1 257.0,1209.1 256.0,1209.1 256.0,1207.1 255.0,1207.1 255.0,1204.2 254.0,1204.2 254.0,1203.3 253.0,1203.3 253.0,1199.6 252.0,1199.6 252.0,1193.7 251.0,1193.7 251.0,1189.7 250.0,1189.7 250.0,1183.8 249.0,1183.8 249.0,1180.3 248.0,1180.3 248.0,1176.3 247.0,1176.3 247.0,1175.3 246.0,1175.3 246.0,1173.8 245.0,1173.8 245.0,1171.7 244.0,1171.7 244.0,1168.7 243.0,1168.7 243.0,1165.4 242.0,1165.4 242.0,1163.3 241.0,1163.3 241.0,1161.5 240.0,1161.5 240.0,1156.6 239.0,1156.6 239.0,1151.7 238.0,1151.7 238.0,1148.0 237.0,1148.0 237.0,1144.1 236.0,1144.1 236.0,1143.9 235.0,1143.9 235.0,1144.5 234.0,1144.5 234.0,1142.2 233.0,1142.2 233.0,1141.7 232.0,1141.7 232.0,1142.3 231.0,1142.3 231.0,1141.7 230.0,1141.7 230.0,1140.2 229.0,1140.2 229.0,1140.5 228.0,1140.5 228.0,1141.9 227.0,1141.9 227.0,1135.4 226.0,1135.4 226.0,1113.8 225.0,1113.8 225.0,1114.0 224.0,1114.0 224.0,1114.5 223.0,1114.5 223.0,1116.4 222.0,1116.4 222.0,1116.0 221.0,1116.0 221.0,1110.9 220.0,1110.9 220.0,1116.4 219.0,1116.4 219.0,1117.0 218.0,1117.0 218.0,1111.7 217.0,1111.7 217.0,1113.7 216.0,1113.7 216.0,1111.0 215.0,1111.0 215.0,1107.6 214.0,1107.6 214.0,1105.9 213.0,1105.9 213.0,1108.4 212.0,1108.4 212.0,1103.6 211.0,1103.6 211.0,1108.3 210.0,1108.3 210.0,1107.0 209.0,1107.0 209.0,1108.6 208.0,1108.6 208.0,1107.8 207.0,1107.8 207.0,1108.4 206.0,1108.4 206.0,1102.9 205.0,1102.9 205.0,1102.7 204.0,1102.7 204.0,1107.5 203.0,1107.5 203.0,1102.7 202.0,1102.7 202.0,1105.7 201.0,1105.7 201.0,1106.8 200.0,1106.8 200.0,1107.7 199.0,1107.7 199.0,1112.4 198.0,1112.4 198.0,1119.9 197.0,1119.9 197.0,1119.9 196.0,1119.9 196.0,1123.9 195.0,1123.9 195.0,1123.9 194.0,1123.9 194.0,1129.6 193.0,1129.6 193.0,1134.8 192.0,1134.8 192.0,1140.4 191.0,1140.4 191.0,1144.4 190.0,1144.4 190.0,1147.8 189.0,1147.8 189.0,1151.7 188.0,1151.7 188.0,1155.8 187.0,1155.8 187.0,1157.7 186.0,1157.7 186.0,1161.0 185.0,1161.0 185.0,1167.9 184.0,1167.9 184.0,1175.5 183.0,1175.5 183.0,1182.3 182.0,1182.3 182.0,1192.7 181.0,1192.7 181.0,1203.3 180.0,1203.3 180.0,1214.7 179.0,1214.7 179.0,1226.5 178.0,1226.5 178.0,1238.8 177.0,1238.8 177.0,1251.6 176.0,1251.6 176.0,1265.3 175.0,1265.3 175.0,1277.6 174.0,1277.6 174.0,1290.1 173.0,1290.1 173.0,1302.7 172.0,1302.7 172.0,1315.0 171.0,1315.0 171.0,1327.4 170.0,1327.4 170.0,1344.5 169.0,1344.5 169.0,1359.8 168.0,1359.8 168.0,1374.9 167.0,1374.9 167.0,1384.0 166.0,1384.0 166.0,1392.5 165.0,1392.5 165.0,1400.2 164.0,1400.2 164.0,1406.7 163.0,1406.7 163.0,1413.1 162.0,1413.1 162.0,1417.8 161.0,1417.8 161.0,1419.9 160.0,1419.9 160.0,1422.5 159.0,1422.5 159.0,1424.2 158.0,1424.2 158.0,1425.7 157.0,1425.7 157.0,1426.8 156.0,1426.8 156.0,1427.5 155.0,1427.5 155.0,1428.2 154.0,1428.2 154.0,1429.3 153.0,1429.3 153.0,1430.3 152.0,1430.3 152.0,1431.0 151.0,1431.0 151.0,1430.4 150.0,1430.4 150.0,1430.0 149.0,1430.0 149.0,1430.2 148.0,1430.2 148.0,1430.2 147.0,1430.2 147.0,1430.0 146.0,1430.0 146.0,1429.2 145.0,1429.2 145.0,1428.6 144.0,1428.6 144.0,1428.6 143.0,1428.6 143.0,1428.9 142.0,1428.9" fill="#2f9465" stroke="#2f9465" stroke-width="2.2" stroke-linejoin="round"/>
<polyline points="142.5,1428.8 143.3,1426.2 144.1,1428.5 144.9,1431.5 145.7,1428.9 146.5,1424.4 147.3,1431.0 148.1,1428.6 148.9,1431.1 149.7,1427.2 150.5,1428.8 151.3,1427.2 152.1,1432.3 152.9,1432.5 153.7,1430.8 154.5,1425.5 155.3,1424.4 156.1,1426.4 156.9,1428.3 157.7,1422.5 158.5,1425.3 159.3,1418.4 160.1,1423.7 160.9,1421.6 161.7,1410.0 162.5,1405.3 163.3,1409.3 164.1,1396.1 164.9,1400.0 165.7,1389.8 166.5,1383.9 167.3,1376.2 168.1,1368.6 168.9,1347.1 169.7,1342.5 170.5,1324.1 171.3,1312.9 172.1,1307.8 172.9,1298.5 173.7,1289.1 174.5,1273.4 175.3,1268.3 176.1,1256.1 176.9,1243.8 177.7,1237.5 178.5,1221.0 179.3,1218.3 180.1,1208.1 180.9,1200.5 181.7,1191.6 182.5,1182.4 183.3,1170.3 184.1,1171.3 184.9,1166.8 185.7,1162.8 186.5,1151.0 187.3,1158.7 188.1,1155.4 188.9,1143.9 189.7,1151.5 190.5,1143.7 191.3,1135.2 192.1,1142.0 192.9,1122.6 193.7,1108.9 194.5,1132.8 195.3,1124.2 196.1,1097.4 196.9,1134.7 197.7,1100.3 198.5,1094.3 199.3,1107.7 200.1,1112.1 200.9,1100.4 201.7,1107.4 202.5,1082.6 203.3,1109.4 204.1,1109.5 204.9,1103.8 205.7,1114.9 206.5,1075.8 207.3,1077.9 208.1,1123.4 208.9,1095.4 209.7,1118.7 210.5,1086.7 211.3,1117.1 212.1,1078.3 212.9,1107.1 213.7,1108.5 214.5,1118.6 215.3,1080.0 216.1,1078.1 216.9,1093.9 217.7,1121.7 218.5,1077.7 219.3,1105.3 220.1,1116.0 220.9,1090.3 221.7,1084.7 222.5,1108.6 223.3,1115.7 224.1,1122.9 224.9,1127.4 225.7,1127.1 226.5,1117.4 227.3,1119.6 228.1,1149.2 228.9,1148.4 229.7,1125.7 230.5,1147.6 231.3,1126.5 232.1,1138.6 232.9,1134.4 233.7,1140.8 234.5,1143.0 235.3,1146.9 236.1,1124.8 236.9,1128.5 237.7,1132.7 238.5,1157.0 239.3,1143.8 240.1,1153.5 240.9,1152.8 241.7,1168.3 242.5,1159.3 243.3,1172.4 244.1,1160.6 244.9,1175.1 245.7,1163.3 246.5,1177.9 247.3,1167.4 248.1,1180.8 248.9,1184.3 249.7,1186.2 250.5,1182.1 251.3,1196.2 252.1,1195.1 252.9,1202.4 253.7,1204.8 254.5,1207.8 255.3,1198.7 256.1,1210.1 256.9,1202.7 257.7,1206.5 258.5,1215.7 259.3,1213.9 260.1,1205.0 260.9,1216.5 261.7,1221.4 262.5,1211.5 263.3,1212.7 264.1,1219.5 264.9,1225.5 265.7,1225.8 266.5,1226.8 267.3,1224.8 268.1,1215.0 268.9,1220.4 269.7,1213.3 270.5,1231.7 271.3,1219.7 272.1,1218.9 272.9,1231.7 273.7,1217.8 274.5,1231.3 275.3,1234.3 276.1,1236.6 276.9,1219.5 277.7,1240.9 278.5,1232.4 279.3,1228.1 280.1,1241.2 280.9,1232.1 281.7,1237.9 282.5,1223.3 283.3,1244.3 284.1,1224.4 284.9,1247.9 285.7,1228.9 286.5,1223.9 287.3,1224.0 288.1,1232.7 288.9,1232.3 289.7,1239.4 290.5,1234.2 291.3,1248.9 292.1,1238.5 292.9,1248.1 293.7,1226.7 294.5,1247.0 295.3,1243.6 296.1,1244.9 296.9,1232.0 297.7,1250.4 298.5,1233.5 299.3,1254.7 300.1,1232.5 300.9,1246.0 301.7,1238.7 302.5,1228.1 303.3,1252.6 304.1,1228.7 304.9,1230.0 305.7,1241.8 306.5,1229.6 307.3,1259.8 308.1,1259.7 308.9,1237.5 309.7,1260.1 310.5,1259.9 311.3,1241.2 312.1,1234.5 312.9,1233.3 313.7,1252.8 314.5,1232.8 315.3,1242.8 316.1,1234.5 316.9,1262.1 317.7,1233.3 318.5,1252.9 319.3,1240.5 320.1,1259.0 320.9,1237.1 321.7,1240.3 322.5,1234.9 323.3,1245.3 324.1,1258.9 324.9,1254.5 325.7,1239.8 326.5,1237.3 327.3,1259.8 328.1,1238.1 328.9,1237.1 329.7,1260.1 330.5,1251.9 331.3,1261.3 332.1,1258.5 332.9,1237.5 333.7,1261.7 334.5,1261.2 335.3,1261.4 336.1,1258.0 336.9,1265.6 337.7,1255.8 338.5,1239.8 339.3,1266.7 340.1,1265.7 340.9,1263.3 341.7,1246.2 342.5,1260.0 343.3,1246.4 344.1,1260.3 344.9,1243.8 345.7,1267.9 346.5,1247.6 347.3,1266.8 348.1,1244.7 348.9,1267.7 349.7,1266.1 350.5,1262.0 351.3,1242.9 352.1,1262.2 352.9,1266.1 353.7,1270.3 354.5,1255.1 355.3,1266.3 356.1,1266.4 356.9,1265.6 357.7,1244.3 358.5,1244.1 359.3,1244.3 360.1,1261.7 360.9,1246.2 361.7,1271.6 362.5,1268.8 363.3,1264.9 364.1,1247.1 364.9,1270.4 365.7,1245.9 366.5,1269.3 367.3,1246.4 368.1,1247.1 368.9,1248.3 369.7,1272.1 370.5,1250.2 371.3,1256.2 372.1,1266.6 372.9,1267.3 373.7,1248.0 374.5,1272.7 375.3,1251.9 376.1,1266.1 376.9,1248.4 377.7,1271.2 378.5,1248.7 379.3,1267.1 380.1,1249.9 380.9,1270.0 381.7,1250.1 382.5,1272.2 383.3,1249.0 384.1,1254.8 384.9,1263.1 385.7,1255.6 386.5,1265.0 387.3,1261.3 388.1,1263.3 388.9,1266.1 389.7,1270.0 390.5,1267.1 391.3,1271.0 392.1,1266.3 392.9,1248.7 393.7,1249.6 394.5,1249.7 395.3,1269.1 396.1,1255.7 396.9,1268.5 397.7,1269.3 398.5,1268.3 399.3,1250.2 400.1,1254.4 400.9,1260.2 401.7,1263.8 402.5,1254.5 403.3,1250.1 404.1,1253.9 404.9,1255.7 405.7,1253.8 406.5,1276.9 407.3,1272.1 408.1,1277.5 408.9,1268.3 409.7,1274.1 410.5,1274.6 411.3,1276.4 412.1,1277.4 412.9,1259.3 413.7,1261.7 414.5,1281.0 415.3,1277.8 416.1,1262.9 416.9,1254.2 417.7,1269.3 418.5,1256.5 419.3,1268.6 420.1,1250.6 420.9,1273.8 421.7,1276.1 422.5,1276.4 423.3,1263.1 424.1,1278.5 424.9,1269.0 425.7,1265.8 426.5,1255.4 427.3,1255.3 428.1,1251.1 428.9,1253.0 429.7,1252.5 430.5,1258.5 431.3,1256.7 432.1,1257.1 432.9,1276.3 433.7,1280.3 434.5,1272.8 435.3,1282.4 436.1,1272.4 436.9,1277.2 437.7,1254.4 438.5,1287.4 439.3,1263.2 440.1,1258.2 440.9,1254.0 441.7,1277.5 442.5,1280.7 443.3,1273.7 444.1,1261.4 444.9,1275.9 445.7,1260.3 446.5,1281.8 447.3,1257.8 448.1,1256.4 448.9,1259.1 449.7,1282.4 450.5,1258.5 451.3,1281.9 452.1,1259.8 452.9,1279.9 453.7,1258.9 454.5,1280.5 455.3,1281.1 456.1,1282.5 456.9,1266.5 457.7,1281.5 458.5,1258.7 459.3,1277.5 460.1,1260.4 460.9,1262.6 461.7,1282.9 462.5,1277.5 463.3,1259.6 464.1,1278.3 464.9,1279.7 465.7,1273.8 466.5,1266.3 467.3,1264.1 468.1,1264.3 468.9,1280.4 469.7,1263.5 470.5,1281.4 471.3,1263.8 472.1,1281.0 472.9,1263.0 473.7,1258.4 474.5,1274.9 475.3,1283.4 476.1,1264.6 476.9,1273.3 477.7,1280.3 478.5,1274.2 479.3,1266.4 480.1,1277.9 480.9,1261.5 481.7,1282.8 482.5,1271.9 483.3,1281.0 484.1,1278.2 484.9,1277.4 485.7,1261.9 486.5,1276.8 487.3,1269.4 488.1,1277.7 488.9,1269.3 489.7,1276.5 490.5,1283.7 491.3,1264.4 492.1,1267.5 492.9,1265.5 493.7,1286.4 494.5,1284.3 495.3,1278.6 496.1,1286.0 496.9,1262.7 497.7,1286.1 498.5,1278.9 499.3,1284.5 500.1,1269.0 500.9,1279.0 501.7,1262.5 502.5,1282.0 503.3,1279.1 504.1,1278.0 504.9,1267.7 505.7,1271.9 506.5,1265.9 507.3,1281.9 508.1,1267.5 508.9,1263.6 509.7,1265.2 510.5,1269.0 511.3,1283.0 512.1,1263.4 512.9,1271.3 513.7,1282.0 514.5,1267.0 515.3,1282.3 516.1,1280.2 516.9,1283.0 517.7,1272.3 518.5,1282.8 519.3,1274.6 520.1,1284.6 520.9,1269.9 521.7,1281.9 522.5,1267.6 523.3,1286.8 524.1,1270.0 524.9,1287.7 525.7,1267.0 526.5,1265.7 527.3,1271.0 528.1,1269.7 528.9,1272.9 529.7,1284.8 530.5,1264.2 531.3,1285.2 532.1,1269.4 532.9,1281.6 533.7,1266.3 534.5,1277.4 535.3,1270.4 536.1,1285.4 536.9,1271.2 537.7,1268.5 538.5,1268.4 539.3,1268.9 540.1,1272.9 540.9,1271.3 541.7,1293.1 542.5,1282.5 543.3,1268.8 544.1,1292.0 544.9,1272.1 545.7,1290.1 546.5,1291.7 547.3,1271.2 548.1,1271.7 548.9,1290.3 549.7,1294.4 550.5,1286.5 551.3,1292.3 552.1,1275.7 552.9,1286.2 553.7,1272.3 554.5,1270.8 555.3,1279.2 556.1,1280.0 556.9,1292.3 557.7,1275.3 558.5,1286.2 559.3,1277.7 560.1,1274.2 560.9,1278.9 561.7,1292.6 562.5,1279.9 563.3,1293.4 564.1,1272.5 564.9,1294.3 565.7,1270.1 566.5,1294.5 567.3,1270.4 568.1,1292.5 568.9,1270.8 569.7,1272.3 570.5,1293.7 571.3,1293.0 572.1,1272.1 572.9,1270.0 573.7,1271.0 574.5,1289.9 575.3,1297.7 576.1,1269.9 576.9,1295.7 577.7,1298.9 578.5,1285.2 579.3,1301.8 580.1,1279.9 580.9,1292.6 581.7,1298.2 582.5,1294.9 583.3,1274.2 584.1,1283.3 584.9,1305.7 585.7,1304.7 586.5,1278.5 587.3,1301.1 588.1,1295.3 588.9,1277.0 589.7,1273.7 590.5,1293.1 591.3,1296.8 592.1,1290.6 592.9,1283.3 593.7,1293.1 594.5,1269.7 595.3,1271.7 596.1,1273.3 596.9,1289.1 597.7,1273.8 598.5,1298.7 599.3,1276.9 600.1,1277.6 600.9,1273.3 601.7,1270.7 602.5,1298.5 603.3,1292.3 604.1,1288.2 604.9,1290.0 605.7,1272.2 606.5,1271.0 607.3,1297.0 608.1,1284.4 608.9,1282.3 609.7,1286.3 610.5,1276.7 611.3,1274.1 612.1,1295.6 612.9,1291.2 613.7,1297.1 614.5,1295.9 615.3,1275.9 616.1,1282.7 616.9,1288.6 617.7,1296.2 618.5,1274.5 619.3,1276.1 620.1,1283.7 620.9,1295.0 621.7,1280.7 622.5,1295.4 623.3,1284.5 624.1,1291.6 624.9,1279.6 625.7,1295.8 626.5,1297.4 627.3,1280.5 628.1,1297.5 628.9,1282.9 629.7,1293.7 630.5,1296.6 631.3,1281.4 632.1,1281.8 632.9,1284.2 633.7,1295.9 634.5,1286.3 635.3,1281.8 636.1,1280.5 636.9,1294.5 637.7,1294.2 638.5,1278.6 639.3,1278.1 640.1,1293.9 640.9,1277.6 641.7,1276.1 642.5,1301.1 643.3,1301.6 644.1,1282.6 644.9,1300.7 645.7,1282.7 646.5,1288.6 647.3,1303.0 648.1,1297.5 648.9,1274.6 649.7,1298.6 650.5,1285.7 651.3,1302.4 652.1,1275.9 652.9,1275.3 653.7,1277.7 654.5,1275.9 655.3,1274.2 656.1,1294.0 656.9,1276.2 657.7,1293.5 658.5,1298.8 659.3,1292.1 660.1,1283.2 660.9,1293.1 661.7,1291.5 662.5,1300.4 663.3,1281.4 664.1,1285.4 664.9,1284.5 665.7,1299.9 666.5,1285.2 667.3,1291.2 668.1,1278.6 668.9,1299.5 669.7,1283.0 670.5,1301.0 671.3,1285.9 672.1,1303.8 672.9,1282.4 673.7,1302.6 674.5,1303.7 675.3,1303.3 676.1,1280.9 676.9,1293.3 677.7,1286.5 678.5,1300.9 679.3,1300.5 680.1,1277.8 680.9,1303.2 681.7,1303.1 682.5,1282.4 683.3,1304.2 684.1,1285.6 684.9,1295.9 685.7,1301.9 686.5,1286.5 687.3,1283.5 688.1,1301.0 688.9,1281.2 689.7,1302.5 690.5,1302.3 691.3,1293.6 692.1,1304.2 692.9,1297.4 693.7,1293.4 694.5,1305.4 695.3,1303.2 696.1,1301.7 696.9,1283.7 697.7,1306.3 698.5,1305.0 699.3,1307.4 700.1,1283.6 700.9,1288.9 701.7,1307.7 702.5,1302.0 703.3,1283.5 704.1,1307.6 704.9,1287.4 705.7,1300.7 706.5,1294.9 707.3,1304.0 708.1,1284.1 708.9,1304.5 709.7,1307.8 710.5,1289.1 711.3,1283.6 712.1,1287.7 712.9,1300.5 713.7,1302.9 714.5,1290.4 715.3,1288.6 716.1,1288.1 716.9,1294.9 717.7,1290.6 718.5,1302.7 719.3,1303.2 720.1,1298.8 720.9,1284.5 721.7,1301.6 722.5,1300.6 723.3,1306.3 724.1,1290.4 724.9,1302.3 725.7,1304.1 726.5,1297.6 727.3,1288.9 728.1,1286.0 728.9,1286.4 729.7,1298.2 730.5,1294.7 731.3,1306.4 732.1,1289.9 732.9,1304.7 733.7,1286.5 734.5,1294.8 735.3,1286.4 736.1,1306.2 736.9,1292.0 737.7,1287.2 738.5,1290.7 739.3,1286.5 740.1,1307.3 740.9,1305.6 741.7,1283.4 742.5,1305.6 743.3,1284.8 744.1,1284.7 744.9,1307.8 745.7,1305.8 746.5,1293.6 747.3,1303.9 748.1,1281.5 748.9,1300.7 749.7,1293.1 750.5,1284.5 751.3,1292.7 752.1,1281.1 752.9,1286.3 753.7,1290.8 754.5,1289.7 755.3,1292.7 756.1,1303.5 756.9,1307.2 757.7,1302.7 758.5,1302.6 759.3,1284.8 760.1,1305.1 760.9,1285.7 761.7,1299.2 762.5,1284.8 763.3,1301.9 764.1,1283.5 764.9,1307.8 765.7,1286.1 766.5,1285.8 767.3,1310.6 768.1,1304.9 768.9,1290.1 769.7,1305.2 770.5,1298.9 771.3,1287.3 772.1,1288.5 772.9,1302.2 773.7,1289.1 774.5,1293.9 775.3,1292.9 776.1,1309.6 776.9,1287.4 777.7,1308.6 778.5,1301.6 779.3,1305.6 780.1,1288.3 780.9,1305.4 781.7,1307.6 782.5,1291.9 783.3,1293.1 784.1,1307.7 784.9,1296.8 785.7,1305.6 786.5,1305.7 787.3,1308.5 788.1,1293.2 788.9,1307.3 789.7,1301.2 790.5,1307.7 791.3,1300.6 792.1,1305.5 792.9,1291.9 793.7,1308.0 794.5,1289.2 795.3,1310.2 796.1,1298.2 796.9,1305.1 797.7,1288.4 798.5,1310.1 799.3,1298.9 800.1,1294.6 800.9,1289.7 801.7,1308.3 802.5,1297.1 803.3,1310.8 804.1,1292.6 804.9,1308.0 805.7,1309.0 806.5,1310.7 807.3,1295.5 808.1,1308.1 808.9,1300.5 809.7,1309.9 810.5,1290.4 811.3,1313.1 812.1,1310.9 812.9,1309.7 813.7,1300.1 814.5,1296.5 815.3,1293.3 816.1,1309.7 816.9,1294.7 817.7,1299.6 818.5,1297.5 819.3,1308.4 820.1,1304.9 820.9,1314.0 821.7,1307.0 822.5,1296.4 823.3,1296.7 824.1,1315.2 824.9,1294.0 825.7,1294.2 826.5,1293.3 827.3,1315.0 828.1,1294.7 828.9,1314.9 829.7,1316.4 830.5,1316.1 831.3,1316.3 832.1,1313.5 832.9,1296.9 833.7,1316.7 834.5,1311.3 835.3,1295.4 836.1,1296.8 836.9,1313.6 837.7,1297.7 838.5,1315.8 839.3,1302.5 840.1,1299.7 840.9,1302.3 841.7,1313.1 842.5,1297.0 843.3,1313.2 844.1,1297.0 844.9,1298.7 845.7,1295.3 846.5,1295.8 847.3,1300.6 848.1,1314.0 848.9,1294.8 849.7,1315.0 850.5,1302.9 851.3,1310.1 852.1,1302.4 852.9,1323.2 853.7,1320.2 854.5,1325.2 855.3,1309.4 856.1,1302.0 856.9,1306.1 857.7,1314.2 858.5,1293.1 859.3,1318.5 860.1,1284.2 860.9,1284.4 861.7,1284.9 862.5,1314.3 863.3,1292.7 864.1,1314.3 864.9,1289.4 865.7,1320.7 866.5,1321.2 867.3,1311.6 868.1,1302.7 868.9,1294.7 869.7,1297.3 870.5,1325.1 871.3,1305.4 872.1,1316.9 872.9,1307.4 873.7,1307.9 874.5,1308.5 875.3,1327.4 876.1,1306.8 876.9,1300.5 877.7,1303.4 878.5,1317.9 879.3,1300.6 880.1,1326.0 880.9,1300.2 881.7,1323.9 882.5,1307.1 883.3,1322.0 884.1,1309.4 884.9,1310.2 885.7,1310.1 886.5,1324.0 887.3,1307.6 888.1,1324.9 888.9,1324.2 889.7,1315.1 890.5,1310.7" fill="none" stroke="#2f9465" stroke-width="2.6" stroke-linejoin="miter" stroke-miterlimit="1.5"/>
<polyline points="897.0,1440.0 899.0,1435.0 902.2,1445.0 904.7,1434.0 907.1,1413.0 910.4,1397.0 912.1,1370.0 914.5,1343.0 918.6,1334.0 921.1,1330.0 925.2,1336.0 929.3,1329.0 935.0,1332.0 939.1,1328.0 944.8,1339.0 954.6,1339.0 962.8,1337.5 971.0,1341.0 975.9,1348.0 982.5,1350.5 987.4,1355.5 993.9,1361.0 998.9,1368.0 1002.1,1373.0" fill="none" stroke="#2f9465" stroke-width="3.6" stroke-linejoin="round" stroke-linecap="round" />
<polygon points="896.5,1432.9 897.5,1432.9 897.5,1431.4 898.5,1431.4 898.5,1426.6 899.5,1426.6 899.5,1431.9 900.5,1431.9 900.5,1434.1 901.5,1434.1 901.5,1439.9 902.5,1439.9 902.5,1434.8 903.5,1434.8 903.5,1431.3 904.5,1431.3 904.5,1421.2 905.5,1421.2 905.5,1415.4 906.5,1415.4 906.5,1411.5 907.5,1411.5 907.5,1404.7 908.5,1404.7 908.5,1399.1 909.5,1399.1 909.5,1394.9 910.5,1394.9 910.5,1379.0 911.5,1379.0 911.5,1361.6 912.5,1361.6 912.5,1352.7 913.5,1352.7 913.5,1341.9 914.5,1341.9 914.5,1337.9 915.5,1337.9 915.5,1335.9 916.5,1335.9 916.5,1332.5 917.5,1332.5 917.5,1330.7 918.5,1330.7 918.5,1329.3 919.5,1329.3 919.5,1325.3 920.5,1325.3 920.5,1324.9 921.5,1324.9 921.5,1324.5 922.5,1324.5 922.5,1328.0 923.5,1328.0 923.5,1328.1 924.5,1328.1 924.5,1332.2 925.5,1332.2 925.5,1328.7 926.5,1328.7 926.5,1326.5 927.5,1326.5 927.5,1325.5 928.5,1325.5 928.5,1324.1 929.5,1324.1 929.5,1324.1 930.5,1324.1 930.5,1325.0 931.5,1325.0 931.5,1326.0 932.5,1326.0 932.5,1326.9 933.5,1326.9 933.5,1327.2 934.5,1327.2 934.5,1328.7 935.5,1328.7 935.5,1328.2 936.5,1328.2 936.5,1325.2 937.5,1325.2 937.5,1323.3 938.5,1323.3 938.5,1323.8 939.5,1323.8 939.5,1325.8 940.5,1325.8 940.5,1327.2 941.5,1327.2 941.5,1330.0 942.5,1330.0 942.5,1330.3 943.5,1330.3 943.5,1334.1 944.5,1334.1 944.5,1334.0 945.5,1334.0 945.5,1335.3 946.5,1335.3 946.5,1335.7 947.5,1335.7 947.5,1334.0 948.5,1334.0 948.5,1333.8 949.5,1333.8 949.5,1335.3 950.5,1335.3 950.5,1334.2 951.5,1334.2 951.5,1333.3 952.5,1333.3 952.5,1333.4 953.5,1333.4 953.5,1334.3 954.5,1334.3 954.5,1334.5 955.5,1334.5 955.5,1334.2 956.5,1334.2 956.5,1334.0 957.5,1334.0 957.5,1334.2 958.5,1334.2 958.5,1333.7 959.5,1333.7 959.5,1334.6 960.5,1334.6 960.5,1334.0 961.5,1334.0 961.5,1334.1 962.5,1334.1 962.5,1335.4 963.5,1335.4 963.5,1334.8 964.5,1334.8 964.5,1334.3 965.5,1334.3 965.5,1334.6 966.5,1334.6 966.5,1335.8 967.5,1335.8 967.5,1336.5 968.5,1336.5 968.5,1337.1 969.5,1337.1 969.5,1336.1 970.5,1336.1 970.5,1335.8 971.5,1335.8 971.5,1337.9 972.5,1337.9 972.5,1339.6 973.5,1339.6 973.5,1341.3 974.5,1341.3 974.5,1342.0 975.5,1342.0 975.5,1344.9 976.5,1344.9 976.5,1343.8 977.5,1343.8 977.5,1344.6 978.5,1344.6 978.5,1345.1 979.5,1345.1 979.5,1344.4 980.5,1344.4 980.5,1345.9 981.5,1345.9 981.5,1345.5 982.5,1345.5 982.5,1346.0 983.5,1346.0 983.5,1345.9 984.5,1345.9 984.5,1347.5 985.5,1347.5 985.5,1348.7 986.5,1348.7 986.5,1351.5 987.5,1351.5 987.5,1351.1 988.5,1351.1 988.5,1353.0 989.5,1353.0 989.5,1352.7 990.5,1352.7 990.5,1354.4 991.5,1354.4 991.5,1355.3 992.5,1355.3 992.5,1356.1 993.5,1356.1 993.5,1358.0 994.5,1358.0 994.5,1358.5 995.5,1358.5 995.5,1359.7 996.5,1359.7 996.5,1361.4 997.5,1361.4 997.5,1364.4 998.5,1364.4 998.5,1366.4 999.5,1366.4 999.5,1367.6 1000.5,1367.6 1000.5,1368.9 1001.5,1368.9 1001.5,1370.9 1002.5,1370.9 1002.5,1375.5 1001.5,1375.5 1001.5,1373.5 1000.5,1373.5 1000.5,1372.4 999.5,1372.4 999.5,1370.6 998.5,1370.6 998.5,1369.4 997.5,1369.4 997.5,1368.1 996.5,1368.1 996.5,1368.2 995.5,1368.2 995.5,1365.5 994.5,1365.5 994.5,1366.5 993.5,1366.5 993.5,1364.4 992.5,1364.4 992.5,1362.7 991.5,1362.7 991.5,1361.9 990.5,1361.9 990.5,1362.1 989.5,1362.1 989.5,1361.2 988.5,1361.2 988.5,1360.2 987.5,1360.2 987.5,1359.6 986.5,1359.6 986.5,1359.3 985.5,1359.3 985.5,1358.2 984.5,1358.2 984.5,1358.2 983.5,1358.2 983.5,1355.7 982.5,1355.7 982.5,1356.0 981.5,1356.0 981.5,1353.9 980.5,1353.9 980.5,1353.1 979.5,1353.1 979.5,1354.6 978.5,1354.6 978.5,1353.7 977.5,1353.7 977.5,1351.8 976.5,1351.8 976.5,1351.5 975.5,1351.5 975.5,1351.4 974.5,1351.4 974.5,1350.7 973.5,1350.7 973.5,1346.9 972.5,1346.9 972.5,1345.7 971.5,1345.7 971.5,1344.0 970.5,1344.0 970.5,1345.4 969.5,1345.4 969.5,1344.4 968.5,1344.4 968.5,1342.9 967.5,1342.9 967.5,1342.5 966.5,1342.5 966.5,1341.9 965.5,1341.9 965.5,1341.6 964.5,1341.6 964.5,1340.6 963.5,1340.6 963.5,1340.2 962.5,1340.2 962.5,1341.7 961.5,1341.7 961.5,1341.9 960.5,1341.9 960.5,1340.9 959.5,1340.9 959.5,1341.7 958.5,1341.7 958.5,1341.4 957.5,1341.4 957.5,1343.8 956.5,1343.8 956.5,1344.3 955.5,1344.3 955.5,1342.7 954.5,1342.7 954.5,1342.9 953.5,1342.9 953.5,1344.8 952.5,1344.8 952.5,1344.7 951.5,1344.7 951.5,1342.9 950.5,1342.9 950.5,1342.3 949.5,1342.3 949.5,1343.3 948.5,1343.3 948.5,1344.0 947.5,1344.0 947.5,1343.3 946.5,1343.3 946.5,1343.5 945.5,1343.5 945.5,1344.0 944.5,1344.0 944.5,1342.4 943.5,1342.4 943.5,1339.1 942.5,1339.1 942.5,1337.8 941.5,1337.8 941.5,1335.3 940.5,1335.3 940.5,1333.6 939.5,1333.6 939.5,1331.5 938.5,1331.5 938.5,1334.2 937.5,1334.2 937.5,1333.4 936.5,1333.4 936.5,1334.0 935.5,1334.0 935.5,1335.5 934.5,1335.5 934.5,1334.9 933.5,1334.9 933.5,1335.4 932.5,1335.4 932.5,1334.0 931.5,1334.0 931.5,1333.7 930.5,1333.7 930.5,1334.0 929.5,1334.0 929.5,1333.9 928.5,1333.9 928.5,1336.0 927.5,1336.0 927.5,1338.8 926.5,1338.8 926.5,1340.9 925.5,1340.9 925.5,1339.4 924.5,1339.4 924.5,1339.7 923.5,1339.7 923.5,1338.7 922.5,1338.7 922.5,1338.0 921.5,1338.0 921.5,1337.4 920.5,1337.4 920.5,1337.1 919.5,1337.1 919.5,1338.1 918.5,1338.1 918.5,1340.3 917.5,1340.3 917.5,1343.0 916.5,1343.0 916.5,1343.5 915.5,1343.5 915.5,1346.1 914.5,1346.1 914.5,1354.6 913.5,1354.6 913.5,1367.4 912.5,1367.4 912.5,1381.5 911.5,1381.5 911.5,1395.2 910.5,1395.2 910.5,1405.5 909.5,1405.5 909.5,1408.5 908.5,1408.5 908.5,1411.6 907.5,1411.6 907.5,1416.4 906.5,1416.4 906.5,1429.7 905.5,1429.7 905.5,1439.9 904.5,1439.9 904.5,1442.6 903.5,1442.6 903.5,1446.8 902.5,1446.8 902.5,1449.3 901.5,1449.3 901.5,1447.6 900.5,1447.6 900.5,1445.6 899.5,1445.6 899.5,1443.8 898.5,1443.8 898.5,1445.4 897.5,1445.4 897.5,1445.3 896.5,1445.3" fill="#2f9465" stroke="#2f9465" stroke-width="2.2" stroke-linejoin="round"/>
<polyline points="897.0,1448.2 897.8,1450.3 898.6,1429.7 899.4,1424.3 900.2,1448.0 901.0,1437.2 901.8,1452.8 902.6,1440.8 903.4,1427.2 904.2,1427.3 905.0,1441.0 905.8,1429.9 906.6,1425.8 907.4,1404.6 908.2,1399.2 909.0,1396.6 909.8,1401.5 910.6,1401.3 911.4,1388.3 912.2,1352.4 913.0,1366.9 913.8,1361.9 914.6,1331.4 915.4,1336.2 916.2,1342.4 917.0,1328.3 917.8,1337.4 918.6,1326.4 919.4,1342.4 920.2,1328.0 921.0,1338.8 921.8,1318.7 922.6,1328.3 923.4,1323.0 924.2,1343.2 925.0,1333.5 925.8,1338.7 926.6,1344.4 927.4,1329.9 928.2,1324.3 929.0,1331.2 929.8,1334.8 930.6,1334.4 931.4,1320.5 932.2,1332.8 933.0,1328.4 933.8,1341.1 934.6,1328.7 935.4,1326.2 936.2,1329.4 937.0,1333.4 937.8,1324.2 938.6,1336.8 939.4,1319.5 940.2,1340.6 941.0,1325.0 941.8,1342.1 942.6,1328.2 943.4,1345.5 944.2,1329.5 945.0,1343.7 945.8,1345.9 946.6,1332.6 947.4,1335.4 948.2,1346.9 949.0,1330.1 949.8,1340.4 950.6,1348.6 951.4,1347.8 952.2,1333.2 953.0,1336.8 953.8,1333.2 954.6,1346.4 955.4,1332.2 956.2,1343.9 957.0,1332.3 957.8,1345.6 958.6,1330.3 959.4,1340.7 960.2,1332.5 961.0,1339.3 961.8,1343.0 962.6,1338.5 963.4,1333.0 964.2,1341.0 965.0,1339.6 965.8,1343.6 966.6,1335.3 967.4,1346.8 968.2,1332.7 969.0,1336.6 969.8,1331.3 970.6,1335.5 971.4,1333.0 972.2,1352.0 973.0,1346.5 973.8,1349.8 974.6,1339.0 975.4,1351.8 976.2,1338.6 977.0,1343.4 977.8,1352.2 978.6,1355.9 979.4,1342.3 980.2,1356.8 981.0,1348.8 981.8,1357.2 982.6,1343.0 983.4,1362.7 984.2,1353.9 985.0,1346.4 985.8,1346.0 986.6,1356.0 987.4,1346.5 988.2,1350.9 989.0,1352.2 989.8,1364.7 990.6,1356.0 991.4,1350.4 992.2,1350.7 993.0,1361.2 993.8,1365.7 994.6,1363.8 995.4,1355.7 996.2,1370.6 997.0,1370.7 997.8,1372.2 998.6,1367.4 999.4,1364.8 1000.2,1373.3 1001.0,1376.9 1001.8,1377.0" fill="none" stroke="#2f9465" stroke-width="2.6" stroke-linejoin="miter" stroke-miterlimit="1.5"/>
<line x1="213.3" y1="1068.5" x2="213.3" y2="1085" stroke="#2f9465" stroke-width="2.5"/>
<line x1="860.5" y1="1285" x2="860.5" y2="1300" stroke="#2f9465" stroke-width="2.5"/>
<line x1="921.1" y1="1306.5" x2="921.1" y2="1325" stroke="#2f9465" stroke-width="2.5"/>
<line x1="939.1" y1="1303" x2="939.1" y2="1320" stroke="#2f9465" stroke-width="2.5"/>
<line x1="899.5" y1="1418" x2="899.5" y2="1452" stroke="#2f9465" stroke-width="2.5"/>
<line x1="904.7" y1="1416" x2="904.7" y2="1452" stroke="#2f9465" stroke-width="2.5"/>
<rect x="141" y="909" width="3" height="545" fill="#ff00ff"/>
<rect x="890" y="909" width="7.6" height="544.5" fill="#0000ff"/>
<polyline points="141.3,1015.7 143.7,1028.3 146.0,1047.2 147.6,1066.1 149.2,1088.2 150.0,1118.1 151.5,1141.7 153.9,1160.6 157.8,1174.8 160.2,1189.0 161.0,1204.7 164.9,1217.3 171.2,1226.8 175.9,1237.8 180.7,1239.4 187.0,1247.0 195.1,1241.6 200.4,1234.6 205.7,1220.5 209.2,1204.6 211.0,1197.6 216.3,1196.7 219.8,1202.9 223.3,1220.5 227.7,1231.1 233.9,1232.8 239.2,1241.6 246.2,1246.9 253.2,1250.4 256.8,1252.2 262.0,1252.2 267.3,1248.7 274.4,1243.4 281.4,1239.9 288.5,1236.3 297.3,1232.8 306.0,1232.8 313.1,1231.1 320.1,1225.8 325.4,1230.3 330.6,1230.7 335.9,1232.2 341.1,1236.0 346.4,1238.6 351.7,1240.0 357.0,1242.9 362.3,1242.6 367.6,1245.2 372.8,1245.3 379.4,1246.9 386.0,1243.9 392.6,1247.9 399.2,1247.9 405.8,1251.5 412.4,1250.5 419.0,1248.5 425.6,1251.9 432.2,1251.5 438.8,1251.9 445.4,1254.4 452.0,1257.1 458.6,1252.7 465.2,1253.2 471.8,1251.1 478.4,1254.5 485.0,1257.7 491.6,1257.1 498.2,1260.5 504.8,1258.5 511.4,1260.7 518.0,1259.8 524.6,1261.4 531.2,1265.1 537.9,1264.2 544.5,1261.1 551.1,1259.3 557.7,1259.8 564.3,1261.8 570.9,1261.1 577.5,1257.9 584.1,1257.1 590.7,1260.0 597.3,1259.8 603.9,1261.2 610.5,1257.1 616.9,1261.2 623.2,1259.8 629.8,1263.2 636.4,1262.4 643.0,1266.1 649.6,1265.1 656.2,1264.9 662.8,1262.4 669.4,1263.4 676.0,1263.7 682.6,1268.1 689.2,1267.7 695.8,1262.1 702.4,1261.1 709.0,1263.0 715.6,1266.4 722.2,1265.6 728.8,1263.7 735.4,1262.9 742.0,1262.4 748.6,1263.4 755.2,1261.1 760.5,1256.7 765.8,1255.8 771.1,1257.3 776.4,1263.7 782.5,1262.1 788.7,1267.2 794.8,1265.1 802.8,1263.7 808.9,1261.2 815.1,1261.3 821.2,1262.4 827.9,1262.4 834.5,1263.7 839.7,1262.8 844.9,1260.6 849.8,1263.9 856.4,1265.5 862.9,1264.7 867.8,1252.4 872.8,1250.8 879.3,1253.2 881.8,1262.2 883.4,1298.3 887.5,1304.8 889.1,1314.6 891.6,1285.2 894.0,1277.0 900.6,1281.9 907.1,1280.2 913.7,1285.2 920.2,1288.4 921.9,1275.3 928.4,1270.4 935.0,1272.1 938.3,1281.9 941.5,1301.5 948.1,1308.1 950.5,1309.7 954.6,1288.4 959.6,1272.1 962.8,1268.0 969.4,1275.3 972.7,1285.2 975.9,1301.5 980.8,1311.4 984.1,1327.7 987.4,1335.9 993.9,1340.8 997.2,1352.3 1002.1,1365.4 1003.8,1380.2" fill="none" stroke="#000" stroke-width="5.4" stroke-linejoin="round" stroke-linecap="round" />
<text transform="translate(536.41,58.70) scale(0.9721,1)" font-size="51.21" font-weight="normal" >A</text>
<text transform="translate(97.65,612.00) scale(1.0000,1)" font-size="23.70" font-weight="bold" >0</text>
<text transform="translate(97.77,525.00) scale(1.0000,1)" font-size="23.70" font-weight="bold" >2</text>
<text transform="translate(97.19,438.00) scale(1.0000,1)" font-size="23.70" font-weight="bold" >4</text>
<text transform="translate(97.44,351.00) scale(1.0000,1)" font-size="23.70" font-weight="bold" >6</text>
<text transform="translate(97.54,264.00) scale(1.0000,1)" font-size="23.70" font-weight="bold" >8</text>
<text transform="translate(85.80,177.00) scale(1.0000,1)" font-size="23.70" font-weight="bold" >10</text>
<text transform="translate(85.92,89.00) scale(1.0000,1)" font-size="23.70" font-weight="bold" >12</text>
<text transform="translate(999.50,612.00) scale(1.0000,1)" font-size="23.70" font-weight="bold" >0</text>
<text transform="translate(999.40,507.00) scale(1.0000,1)" font-size="23.70" font-weight="bold" >2</text>
<text transform="translate(1000.08,403.00) scale(1.0000,1)" font-size="23.70" font-weight="bold" >4</text>
<text transform="translate(999.59,299.00) scale(1.0000,1)" font-size="23.70" font-weight="bold" >6</text>
<text transform="translate(999.61,194.00) scale(1.0000,1)" font-size="23.70" font-weight="bold" >8</text>
<text transform="translate(998.50,89.00) scale(1.0000,1)" font-size="23.70" font-weight="bold" >10</text>
<text transform="translate(124.58,649.60) scale(1.0000,1)" font-size="23.70" font-weight="bold" >0</text>
<text transform="translate(264.59,649.60) scale(1.0000,1)" font-size="23.70" font-weight="bold" >2</text>
<text transform="translate(406.93,649.60) scale(1.0000,1)" font-size="23.70" font-weight="bold" >4</text>
<text transform="translate(547.52,649.60) scale(1.0000,1)" font-size="23.70" font-weight="bold" >6</text>
<text transform="translate(691.57,649.60) scale(1.0000,1)" font-size="23.70" font-weight="bold" >8</text>
<text transform="translate(826.15,649.60) scale(1.0000,1)" font-size="23.70" font-weight="bold" >10</text>
<text transform="translate(967.21,649.60) scale(1.0000,1)" font-size="23.70" font-weight="bold" >12</text>
<text transform="translate(416.38,706.00) scale(0.9754,1)" font-size="31.15" font-weight="bold" >Elution time (minute)</text>
<g ><text transform="translate(65.00,516.00) rotate(-90) scale(0.9980,1)" x="-1.03" font-size="30.53" font-weight="bold">ICPMS Signal (CPS * 10</text></g>
<g ><text transform="translate(49.80,190.90) rotate(-90) scale(0.8180,1)" x="-0.27" font-size="19.60" font-weight="bold">4</text></g>
<g ><text transform="translate(65.00,181.80) rotate(-90) scale(1.1617,1)" x="-0.98" font-size="30.50" font-weight="bold">)</text></g>
<clipPath id="clA"><rect x="1000" y="235.2" width="136" height="300"/></clipPath>
<g clip-path="url(#clA)"><text transform="translate(1065.90,446.80) rotate(-90) scale(1.0098,1)" x="-0.79" font-size="31.76" font-weight="bold">UV Signal (mV)</text></g>
<text transform="translate(670.01,138.00) scale(1.0050,1)" font-size="32.06" font-weight="bold" >ICP-MS</text>
<text transform="translate(671.36,187.00) scale(0.9788,1)" font-size="31.30" font-weight="bold" >Void</text>
<text transform="translate(671.76,234.60) scale(1.0338,1)" font-size="30.84" font-weight="bold" >Rinse</text>
<text transform="translate(672.45,283.90) scale(0.9738,1)" font-size="30.99" font-weight="bold" >UV</text>
<line x1="608" y1="128.3" x2="664" y2="128.3" stroke="#3a8f6a" stroke-width="1.2" stroke-linecap="butt"/>
<line x1="608.5" y1="175.4" x2="663.5" y2="175.4" stroke="#ff00ff" stroke-width="6.5" stroke-linecap="round"/>
<line x1="608.5" y1="223.8" x2="663.5" y2="223.8" stroke="#0000ff" stroke-width="7" stroke-linecap="round"/>
<line x1="609" y1="274.1" x2="663" y2="274.1" stroke="#000" stroke-width="5.5" stroke-linecap="round"/>
<text transform="translate(548.63,888.00) scale(1.0043,1)" font-size="50.69" font-weight="normal" >B</text>
<text transform="translate(108.31,1459.00) scale(1.0300,1)" font-size="25.00" font-weight="bold" >0</text>
<text transform="translate(1023.62,1459.00) scale(1.0300,1)" font-size="25.00" font-weight="bold" >0</text>
<text transform="translate(108.43,1350.00) scale(1.0300,1)" font-size="25.00" font-weight="bold" >2</text>
<text transform="translate(1023.52,1350.00) scale(1.0300,1)" font-size="25.00" font-weight="bold" >2</text>
<text transform="translate(107.80,1242.00) scale(1.0300,1)" font-size="25.00" font-weight="bold" >4</text>
<text transform="translate(1024.25,1242.00) scale(1.0300,1)" font-size="25.00" font-weight="bold" >4</text>
<text transform="translate(108.08,1133.00) scale(1.0300,1)" font-size="25.00" font-weight="bold" >6</text>
<text transform="translate(1023.72,1133.00) scale(1.0300,1)" font-size="25.00" font-weight="bold" >6</text>
<text transform="translate(108.18,1024.00) scale(1.0300,1)" font-size="25.00" font-weight="bold" >8</text>
<text transform="translate(1023.75,1024.00) scale(1.0300,1)" font-size="25.00" font-weight="bold" >8</text>
<text transform="translate(95.43,915.00) scale(1.0300,1)" font-size="25.00" font-weight="bold" >10</text>
<text transform="translate(1022.54,915.00) scale(1.0300,1)" font-size="25.00" font-weight="bold" >10</text>
<text transform="translate(134.56,1498.60) scale(1.0300,1)" font-size="25.00" font-weight="bold" >0</text>
<text transform="translate(278.13,1498.60) scale(1.0300,1)" font-size="25.00" font-weight="bold" >2</text>
<text transform="translate(421.73,1498.60) scale(1.0300,1)" font-size="25.00" font-weight="bold" >4</text>
<text transform="translate(565.15,1498.60) scale(1.0300,1)" font-size="25.00" font-weight="bold" >6</text>
<text transform="translate(708.76,1498.60) scale(1.0300,1)" font-size="25.00" font-weight="bold" >8</text>
<text transform="translate(845.33,1498.60) scale(1.0300,1)" font-size="25.00" font-weight="bold" >10</text>
<text transform="translate(988.95,1498.60) scale(1.0300,1)" font-size="25.00" font-weight="bold" >12</text>
<text transform="translate(428.96,1549.90) scale(0.9443,1)" font-size="33.28" font-weight="bold" >Elution time (minute)</text>
<g ><text transform="translate(69.10,1357.10) rotate(-90) scale(0.9900,1)" x="-1.14" font-size="33.74" font-weight="bold">ICPMS Signal (CPS*10</text></g>
<g ><text transform="translate(48.90,1029.30) rotate(-90) scale(1.2460,1)" x="-0.24" font-size="17.50" font-weight="bold">4</text></g>
<g ><text transform="translate(69.10,1019.50) rotate(-90) scale(1.5451,1)" x="-1.02" font-size="31.50" font-weight="bold">)</text></g>
<clipPath id="clB"><rect x="1040" y="1066" width="96" height="300"/></clipPath>
<g clip-path="url(#clB)"><text transform="translate(1097.00,1283.80) rotate(-90) scale(0.9850,1)" x="-0.83" font-size="33.44" font-weight="bold">UV Signal (mV)</text></g>
<text transform="translate(728.11,968.50) scale(0.9878,1)" font-size="32.82" font-weight="bold" >ICP-MS</text>
<text transform="translate(728.55,1017.70) scale(0.9423,1)" font-size="32.82" font-weight="bold" >Void</text>
<text transform="translate(728.34,1067.70) scale(1.0063,1)" font-size="32.82" font-weight="bold" >Rinse</text>
<text transform="translate(729.34,1118.00) scale(0.8848,1)" font-size="34.35" font-weight="bold" >UV</text>
<text transform="translate(171.31,1061.90) scale(1.0448,1)" font-size="28.72" font-weight="normal" >4 nm</text>
<line x1="661" y1="958.2" x2="721" y2="958.2" stroke="#2e8b57" stroke-width="3.5" stroke-linecap="butt"/>
<line x1="662.5" y1="1006.6" x2="719" y2="1006.6" stroke="#ff00ff" stroke-width="7" stroke-linecap="round"/>
<line x1="662.5" y1="1056.4" x2="719" y2="1056.4" stroke="#0000ff" stroke-width="7" stroke-linecap="round"/>
<line x1="663" y1="1108.2" x2="719" y2="1108.2" stroke="#000" stroke-width="6" stroke-linecap="round"/>
</svg></body></html>
